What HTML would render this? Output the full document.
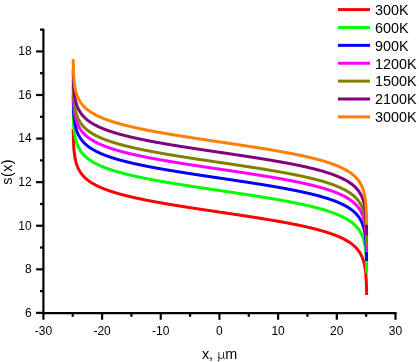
<!DOCTYPE html>
<html><head><meta charset="utf-8"><title>s(x)</title>
<style>html,body{margin:0;padding:0;background:#fff;}svg{display:block;will-change:transform;}text{font-family:"Liberation Sans",sans-serif;fill:#000;}</style></head><body>
<svg width="419" height="362" viewBox="0 0 419 362">
<rect width="419" height="362" fill="#fff"/>
<g fill="none" stroke-width="3.0" stroke-linejoin="round" stroke-linecap="butt">
<path stroke="#FF0000" d="M73.19 129.34 L73.33 136.89 L73.48 141.32 L73.63 144.46 L73.77 146.89 L73.92 148.89 L74.07 150.57 L74.22 152.03 L74.36 153.32 L74.51 154.47 L74.66 155.52 L74.80 156.47 L74.95 157.35 L75.10 158.16 L75.24 158.92 L75.39 159.63 L75.54 160.29 L75.68 160.92 L75.83 161.51 L75.98 162.08 L76.12 162.62 L76.27 163.13 L76.42 163.62 L76.57 164.09 L76.71 164.54 L76.86 164.97 L77.01 165.39 L77.15 165.79 L77.30 166.18 L77.45 166.55 L77.74 167.27 L78.03 167.94 L78.33 168.57 L78.62 169.17 L78.92 169.74 L79.21 170.28 L79.50 170.80 L79.80 171.30 L80.09 171.77 L80.38 172.23 L80.68 172.67 L80.97 173.09 L81.26 173.50 L81.56 173.89 L81.85 174.27 L82.15 174.64 L82.44 175.00 L82.73 175.34 L83.03 175.68 L83.32 176.01 L83.62 176.32 L83.91 176.63 L84.20 176.94 L84.50 177.23 L84.79 177.52 L85.08 177.80 L85.38 178.07 L85.82 178.47 L86.26 178.86 L86.70 179.23 L87.14 179.60 L87.58 179.95 L88.02 180.29 L88.46 180.62 L88.90 180.95 L89.34 181.26 L89.78 181.57 L90.22 181.87 L90.66 182.17 L91.11 182.45 L91.55 182.73 L91.99 183.01 L92.43 183.27 L92.87 183.54 L93.31 183.79 L93.75 184.04 L94.19 184.29 L94.63 184.53 L95.07 184.77 L95.51 185.00 L95.95 185.23 L96.39 185.46 L96.83 185.68 L97.27 185.90 L97.71 186.11 L98.16 186.32 L98.60 186.53 L99.04 186.73 L99.48 186.94 L99.92 187.13 L100.36 187.33 L100.80 187.52 L101.24 187.71 L101.68 187.90 L102.12 188.08 L102.56 188.26 L103.00 188.44 L103.44 188.62 L103.88 188.80 L104.32 188.97 L104.77 189.14 L105.21 189.31 L105.65 189.48 L106.09 189.64 L106.53 189.80 L106.97 189.96 L107.41 190.12 L107.85 190.28 L108.29 190.44 L108.73 190.59 L109.17 190.74 L109.61 190.89 L110.05 191.04 L110.49 191.19 L110.93 191.34 L111.37 191.48 L111.82 191.62 L112.26 191.77 L112.70 191.91 L113.14 192.05 L113.58 192.18 L114.02 192.32 L114.46 192.46 L114.90 192.59 L115.34 192.72 L115.78 192.86 L116.22 192.99 L116.66 193.12 L117.10 193.24 L117.54 193.37 L117.98 193.50 L118.42 193.62 L118.86 193.75 L119.31 193.87 L119.75 194.00 L120.19 194.12 L120.63 194.24 L121.07 194.36 L121.51 194.48 L121.95 194.60 L122.39 194.71 L122.83 194.83 L123.27 194.94 L123.71 195.06 L124.15 195.17 L124.59 195.29 L125.03 195.40 L125.47 195.51 L125.91 195.62 L126.36 195.73 L126.80 195.84 L127.24 195.95 L127.68 196.06 L128.12 196.17 L128.56 196.27 L129.00 196.38 L129.44 196.49 L129.88 196.59 L130.32 196.70 L130.76 196.80 L131.20 196.90 L131.64 197.01 L132.08 197.11 L132.52 197.21 L132.97 197.31 L133.41 197.41 L133.85 197.51 L134.29 197.61 L134.73 197.71 L135.17 197.81 L135.61 197.90 L136.05 198.00 L136.49 198.10 L136.93 198.19 L137.37 198.29 L137.81 198.39 L138.25 198.48 L138.69 198.57 L139.13 198.67 L139.57 198.76 L140.02 198.86 L140.46 198.95 L140.90 199.04 L141.34 199.13 L141.78 199.22 L142.22 199.31 L142.66 199.40 L143.10 199.49 L143.54 199.58 L143.98 199.67 L144.42 199.76 L144.86 199.85 L145.30 199.94 L145.74 200.03 L146.18 200.12 L146.62 200.20 L147.07 200.29 L147.51 200.38 L147.95 200.46 L148.39 200.55 L148.83 200.63 L149.27 200.72 L149.71 200.80 L150.15 200.89 L150.59 200.97 L151.03 201.06 L151.47 201.14 L151.91 201.22 L152.35 201.31 L152.79 201.39 L153.23 201.47 L153.67 201.55 L154.12 201.64 L154.56 201.72 L155.00 201.80 L155.44 201.88 L155.88 201.96 L156.32 202.04 L156.76 202.12 L157.20 202.20 L157.64 202.28 L158.08 202.36 L158.52 202.44 L158.96 202.52 L159.40 202.60 L159.84 202.68 L160.28 202.76 L160.72 202.83 L161.17 202.91 L161.61 202.99 L162.05 203.07 L162.49 203.14 L162.93 203.22 L163.37 203.30 L163.81 203.37 L164.25 203.45 L164.69 203.53 L165.13 203.60 L165.57 203.68 L166.01 203.75 L166.45 203.83 L166.89 203.91 L167.33 203.98 L167.77 204.06 L168.22 204.13 L168.66 204.20 L169.10 204.28 L169.54 204.35 L169.98 204.43 L170.42 204.50 L170.86 204.57 L171.30 204.65 L171.74 204.72 L172.18 204.79 L172.62 204.87 L173.06 204.94 L173.50 205.01 L173.94 205.09 L174.38 205.16 L174.82 205.23 L175.27 205.30 L175.71 205.37 L176.15 205.45 L176.59 205.52 L177.03 205.59 L177.47 205.66 L177.91 205.73 L178.35 205.80 L178.79 205.87 L179.23 205.95 L179.67 206.02 L180.11 206.09 L180.55 206.16 L180.99 206.23 L181.43 206.30 L181.87 206.37 L182.32 206.44 L182.76 206.51 L183.20 206.58 L183.64 206.65 L184.08 206.72 L184.52 206.79 L184.96 206.86 L185.40 206.92 L185.84 206.99 L186.28 207.06 L186.72 207.13 L187.16 207.20 L187.60 207.27 L188.04 207.34 L188.48 207.41 L188.92 207.48 L189.37 207.54 L189.81 207.61 L190.25 207.68 L190.69 207.75 L191.13 207.82 L191.57 207.88 L192.01 207.95 L192.45 208.02 L192.89 208.09 L193.33 208.16 L193.77 208.22 L194.21 208.29 L194.65 208.36 L195.09 208.42 L195.53 208.49 L195.97 208.56 L196.42 208.63 L196.86 208.69 L197.30 208.76 L197.74 208.83 L198.18 208.89 L198.62 208.96 L199.06 209.03 L199.50 209.09 L199.94 209.16 L200.38 209.23 L200.82 209.29 L201.26 209.36 L201.70 209.43 L202.14 209.49 L202.58 209.56 L203.02 209.63 L203.47 209.69 L203.91 209.76 L204.35 209.82 L204.79 209.89 L205.23 209.96 L205.67 210.02 L206.11 210.09 L206.55 210.15 L206.99 210.22 L207.43 210.29 L207.87 210.35 L208.31 210.42 L208.75 210.48 L209.19 210.55 L209.63 210.62 L210.07 210.68 L210.52 210.75 L210.96 210.81 L211.40 210.88 L211.84 210.94 L212.28 211.01 L212.72 211.07 L213.16 211.14 L213.60 211.21 L214.04 211.27 L214.48 211.34 L214.92 211.40 L215.36 211.47 L215.80 211.53 L216.24 211.60 L216.68 211.66 L217.12 211.73 L217.57 211.79 L218.01 211.86 L218.45 211.93 L218.89 211.99 L219.33 212.06 L219.77 212.12 L220.21 212.19 L220.65 212.25 L221.09 212.32 L221.53 212.38 L221.97 212.45 L222.41 212.51 L222.85 212.58 L223.29 212.64 L223.73 212.71 L224.17 212.78 L224.62 212.84 L225.06 212.91 L225.50 212.97 L225.94 213.04 L226.38 213.10 L226.82 213.17 L227.26 213.23 L227.70 213.30 L228.14 213.36 L228.58 213.43 L229.02 213.50 L229.46 213.56 L229.90 213.63 L230.34 213.69 L230.78 213.76 L231.22 213.82 L231.67 213.89 L232.11 213.96 L232.55 214.02 L232.99 214.09 L233.43 214.15 L233.87 214.22 L234.31 214.29 L234.75 214.35 L235.19 214.42 L235.63 214.48 L236.07 214.55 L236.51 214.62 L236.95 214.68 L237.39 214.75 L237.83 214.81 L238.27 214.88 L238.72 214.95 L239.16 215.01 L239.60 215.08 L240.04 215.15 L240.48 215.21 L240.92 215.28 L241.36 215.35 L241.80 215.41 L242.24 215.48 L242.68 215.55 L243.12 215.61 L243.56 215.68 L244.00 215.75 L244.44 215.82 L244.88 215.88 L245.32 215.95 L245.77 216.02 L246.21 216.09 L246.65 216.15 L247.09 216.22 L247.53 216.29 L247.97 216.36 L248.41 216.42 L248.85 216.49 L249.29 216.56 L249.73 216.63 L250.17 216.70 L250.61 216.77 L251.05 216.83 L251.49 216.90 L251.93 216.97 L252.37 217.04 L252.82 217.11 L253.26 217.18 L253.70 217.25 L254.14 217.32 L254.58 217.38 L255.02 217.45 L255.46 217.52 L255.90 217.59 L256.34 217.66 L256.78 217.73 L257.22 217.80 L257.66 217.87 L258.10 217.94 L258.54 218.01 L258.98 218.08 L259.42 218.15 L259.87 218.22 L260.31 218.29 L260.75 218.36 L261.19 218.44 L261.63 218.51 L262.07 218.58 L262.51 218.65 L262.95 218.72 L263.39 218.79 L263.83 218.86 L264.27 218.94 L264.71 219.01 L265.15 219.08 L265.59 219.15 L266.03 219.22 L266.47 219.30 L266.92 219.37 L267.36 219.44 L267.80 219.52 L268.24 219.59 L268.68 219.66 L269.12 219.74 L269.56 219.81 L270.00 219.88 L270.44 219.96 L270.88 220.03 L271.32 220.11 L271.76 220.18 L272.20 220.26 L272.64 220.33 L273.08 220.41 L273.52 220.48 L273.97 220.56 L274.41 220.63 L274.85 220.71 L275.29 220.78 L275.73 220.86 L276.17 220.94 L276.61 221.01 L277.05 221.09 L277.49 221.17 L277.93 221.24 L278.37 221.32 L278.81 221.40 L279.25 221.48 L279.69 221.56 L280.13 221.64 L280.57 221.71 L281.01 221.79 L281.46 221.87 L281.90 221.95 L282.34 222.03 L282.78 222.11 L283.22 222.19 L283.66 222.27 L284.10 222.35 L284.54 222.43 L284.98 222.51 L285.42 222.60 L285.86 222.68 L286.30 222.76 L286.74 222.84 L287.18 222.92 L287.62 223.01 L288.06 223.09 L288.51 223.17 L288.95 223.26 L289.39 223.34 L289.83 223.43 L290.27 223.51 L290.71 223.60 L291.15 223.68 L291.59 223.77 L292.03 223.85 L292.47 223.94 L292.91 224.03 L293.35 224.11 L293.79 224.20 L294.23 224.29 L294.67 224.38 L295.11 224.46 L295.56 224.55 L296.00 224.64 L296.44 224.73 L296.88 224.82 L297.32 224.91 L297.76 225.00 L298.20 225.09 L298.64 225.18 L299.08 225.28 L299.52 225.37 L299.96 225.46 L300.40 225.56 L300.84 225.65 L301.28 225.74 L301.72 225.84 L302.17 225.93 L302.61 226.03 L303.05 226.12 L303.49 226.22 L303.93 226.32 L304.37 226.41 L304.81 226.51 L305.25 226.61 L305.69 226.71 L306.13 226.81 L306.57 226.91 L307.01 227.01 L307.45 227.11 L307.89 227.21 L308.33 227.31 L308.77 227.42 L309.22 227.52 L309.66 227.63 L310.10 227.73 L310.54 227.84 L310.98 227.94 L311.42 228.05 L311.86 228.15 L312.30 228.26 L312.74 228.37 L313.18 228.48 L313.62 228.59 L314.06 228.70 L314.50 228.81 L314.94 228.92 L315.38 229.04 L315.82 229.15 L316.26 229.26 L316.71 229.38 L317.15 229.50 L317.59 229.61 L318.03 229.73 L318.47 229.85 L318.91 229.97 L319.35 230.09 L319.79 230.21 L320.23 230.33 L320.67 230.45 L321.11 230.58 L321.55 230.70 L321.99 230.83 L322.43 230.96 L322.87 231.08 L323.31 231.21 L323.76 231.34 L324.20 231.47 L324.64 231.61 L325.08 231.74 L325.52 231.88 L325.96 232.01 L326.40 232.15 L326.84 232.29 L327.28 232.43 L327.72 232.57 L328.16 232.71 L328.60 232.85 L329.04 233.00 L329.48 233.15 L329.92 233.29 L330.37 233.44 L330.81 233.59 L331.25 233.75 L331.69 233.90 L332.13 234.06 L332.57 234.22 L333.01 234.38 L333.45 234.54 L333.89 234.70 L334.33 234.87 L334.77 235.03 L335.21 235.20 L335.65 235.37 L336.09 235.55 L336.53 235.72 L336.97 235.90 L337.42 236.08 L337.86 236.26 L338.30 236.45 L338.74 236.64 L339.18 236.83 L339.62 237.02 L340.06 237.22 L340.50 237.42 L340.94 237.62 L341.38 237.82 L341.82 238.03 L342.26 238.24 L342.70 238.46 L343.14 238.68 L343.58 238.90 L344.02 239.13 L344.47 239.36 L344.91 239.59 L345.35 239.83 L345.79 240.08 L346.23 240.33 L346.67 240.58 L347.11 240.84 L347.55 241.10 L347.99 241.37 L348.43 241.65 L348.87 241.93 L349.31 242.22 L349.75 242.51 L350.19 242.82 L350.63 243.13 L351.07 243.45 L351.51 243.77 L351.96 244.11 L352.40 244.45 L352.84 244.81 L353.28 245.18 L353.72 245.56 L354.16 245.95 L354.60 246.35 L354.89 246.63 L355.19 246.91 L355.48 247.20 L355.77 247.50 L356.07 247.81 L356.36 248.12 L356.66 248.44 L356.95 248.77 L357.24 249.11 L357.54 249.47 L357.83 249.83 L358.12 250.20 L358.42 250.59 L358.71 250.99 L359.01 251.41 L359.30 251.84 L359.59 252.28 L359.89 252.75 L360.18 253.23 L360.47 253.74 L360.77 254.27 L361.06 254.83 L361.36 255.41 L361.65 256.03 L361.94 256.68 L362.24 257.37 L362.53 258.11 L362.68 258.50 L362.82 258.90 L362.97 259.32 L363.12 259.75 L363.26 260.20 L363.41 260.67 L363.56 261.16 L363.71 261.67 L363.85 262.21 L364.00 262.77 L364.15 263.37 L364.29 263.99 L364.44 264.66 L364.59 265.37 L364.73 266.13 L364.88 266.94 L365.03 267.82 L365.17 268.77 L365.32 269.81 L365.47 270.97 L365.61 272.26 L365.76 273.72 L365.91 275.40 L366.06 277.39 L366.20 279.83 L366.35 282.97 L366.50 287.39 L366.64 294.95"/>
<path stroke="#00FF00" d="M73.19 107.76 L73.33 115.32 L73.48 119.74 L73.63 122.88 L73.77 125.32 L73.92 127.31 L74.07 129.00 L74.22 130.46 L74.36 131.75 L74.51 132.90 L74.66 133.94 L74.80 134.90 L74.95 135.78 L75.10 136.59 L75.24 137.35 L75.39 138.05 L75.54 138.72 L75.68 139.35 L75.83 139.94 L75.98 140.51 L76.12 141.04 L76.27 141.56 L76.42 142.05 L76.57 142.52 L76.71 142.97 L76.86 143.40 L77.01 143.82 L77.15 144.22 L77.30 144.60 L77.45 144.98 L77.74 145.69 L78.03 146.37 L78.33 147.00 L78.62 147.60 L78.92 148.17 L79.21 148.71 L79.50 149.23 L79.80 149.73 L80.09 150.20 L80.38 150.66 L80.68 151.09 L80.97 151.52 L81.26 151.92 L81.56 152.32 L81.85 152.70 L82.15 153.07 L82.44 153.42 L82.73 153.77 L83.03 154.11 L83.32 154.43 L83.62 154.75 L83.91 155.06 L84.20 155.36 L84.50 155.66 L84.79 155.95 L85.08 156.23 L85.38 156.50 L85.82 156.90 L86.26 157.29 L86.70 157.66 L87.14 158.02 L87.58 158.38 L88.02 158.72 L88.46 159.05 L88.90 159.38 L89.34 159.69 L89.78 160.00 L90.22 160.30 L90.66 160.59 L91.11 160.88 L91.55 161.16 L91.99 161.43 L92.43 161.70 L92.87 161.96 L93.31 162.22 L93.75 162.47 L94.19 162.72 L94.63 162.96 L95.07 163.20 L95.51 163.43 L95.95 163.66 L96.39 163.89 L96.83 164.11 L97.27 164.33 L97.71 164.54 L98.16 164.75 L98.60 164.96 L99.04 165.16 L99.48 165.36 L99.92 165.56 L100.36 165.76 L100.80 165.95 L101.24 166.14 L101.68 166.33 L102.12 166.51 L102.56 166.69 L103.00 166.87 L103.44 167.05 L103.88 167.22 L104.32 167.40 L104.77 167.57 L105.21 167.74 L105.65 167.90 L106.09 168.07 L106.53 168.23 L106.97 168.39 L107.41 168.55 L107.85 168.71 L108.29 168.86 L108.73 169.02 L109.17 169.17 L109.61 169.32 L110.05 169.47 L110.49 169.62 L110.93 169.76 L111.37 169.91 L111.82 170.05 L112.26 170.19 L112.70 170.33 L113.14 170.47 L113.58 170.61 L114.02 170.75 L114.46 170.88 L114.90 171.02 L115.34 171.15 L115.78 171.28 L116.22 171.41 L116.66 171.54 L117.10 171.67 L117.54 171.80 L117.98 171.93 L118.42 172.05 L118.86 172.18 L119.31 172.30 L119.75 172.42 L120.19 172.55 L120.63 172.67 L121.07 172.79 L121.51 172.90 L121.95 173.02 L122.39 173.14 L122.83 173.26 L123.27 173.37 L123.71 173.49 L124.15 173.60 L124.59 173.71 L125.03 173.83 L125.47 173.94 L125.91 174.05 L126.36 174.16 L126.80 174.27 L127.24 174.38 L127.68 174.49 L128.12 174.60 L128.56 174.70 L129.00 174.81 L129.44 174.91 L129.88 175.02 L130.32 175.12 L130.76 175.23 L131.20 175.33 L131.64 175.43 L132.08 175.54 L132.52 175.64 L132.97 175.74 L133.41 175.84 L133.85 175.94 L134.29 176.04 L134.73 176.14 L135.17 176.23 L135.61 176.33 L136.05 176.43 L136.49 176.53 L136.93 176.62 L137.37 176.72 L137.81 176.81 L138.25 176.91 L138.69 177.00 L139.13 177.10 L139.57 177.19 L140.02 177.28 L140.46 177.38 L140.90 177.47 L141.34 177.56 L141.78 177.65 L142.22 177.74 L142.66 177.83 L143.10 177.92 L143.54 178.01 L143.98 178.10 L144.42 178.19 L144.86 178.28 L145.30 178.37 L145.74 178.46 L146.18 178.54 L146.62 178.63 L147.07 178.72 L147.51 178.80 L147.95 178.89 L148.39 178.98 L148.83 179.06 L149.27 179.15 L149.71 179.23 L150.15 179.32 L150.59 179.40 L151.03 179.48 L151.47 179.57 L151.91 179.65 L152.35 179.73 L152.79 179.82 L153.23 179.90 L153.67 179.98 L154.12 180.06 L154.56 180.15 L155.00 180.23 L155.44 180.31 L155.88 180.39 L156.32 180.47 L156.76 180.55 L157.20 180.63 L157.64 180.71 L158.08 180.79 L158.52 180.87 L158.96 180.95 L159.40 181.03 L159.84 181.11 L160.28 181.18 L160.72 181.26 L161.17 181.34 L161.61 181.42 L162.05 181.49 L162.49 181.57 L162.93 181.65 L163.37 181.73 L163.81 181.80 L164.25 181.88 L164.69 181.96 L165.13 182.03 L165.57 182.11 L166.01 182.18 L166.45 182.26 L166.89 182.33 L167.33 182.41 L167.77 182.48 L168.22 182.56 L168.66 182.63 L169.10 182.71 L169.54 182.78 L169.98 182.86 L170.42 182.93 L170.86 183.00 L171.30 183.08 L171.74 183.15 L172.18 183.22 L172.62 183.30 L173.06 183.37 L173.50 183.44 L173.94 183.51 L174.38 183.59 L174.82 183.66 L175.27 183.73 L175.71 183.80 L176.15 183.87 L176.59 183.95 L177.03 184.02 L177.47 184.09 L177.91 184.16 L178.35 184.23 L178.79 184.30 L179.23 184.37 L179.67 184.44 L180.11 184.51 L180.55 184.59 L180.99 184.66 L181.43 184.73 L181.87 184.80 L182.32 184.87 L182.76 184.94 L183.20 185.01 L183.64 185.08 L184.08 185.14 L184.52 185.21 L184.96 185.28 L185.40 185.35 L185.84 185.42 L186.28 185.49 L186.72 185.56 L187.16 185.63 L187.60 185.70 L188.04 185.77 L188.48 185.83 L188.92 185.90 L189.37 185.97 L189.81 186.04 L190.25 186.11 L190.69 186.18 L191.13 186.24 L191.57 186.31 L192.01 186.38 L192.45 186.45 L192.89 186.52 L193.33 186.58 L193.77 186.65 L194.21 186.72 L194.65 186.79 L195.09 186.85 L195.53 186.92 L195.97 186.99 L196.42 187.05 L196.86 187.12 L197.30 187.19 L197.74 187.26 L198.18 187.32 L198.62 187.39 L199.06 187.46 L199.50 187.52 L199.94 187.59 L200.38 187.66 L200.82 187.72 L201.26 187.79 L201.70 187.86 L202.14 187.92 L202.58 187.99 L203.02 188.05 L203.47 188.12 L203.91 188.19 L204.35 188.25 L204.79 188.32 L205.23 188.38 L205.67 188.45 L206.11 188.52 L206.55 188.58 L206.99 188.65 L207.43 188.71 L207.87 188.78 L208.31 188.85 L208.75 188.91 L209.19 188.98 L209.63 189.04 L210.07 189.11 L210.52 189.17 L210.96 189.24 L211.40 189.31 L211.84 189.37 L212.28 189.44 L212.72 189.50 L213.16 189.57 L213.60 189.63 L214.04 189.70 L214.48 189.76 L214.92 189.83 L215.36 189.90 L215.80 189.96 L216.24 190.03 L216.68 190.09 L217.12 190.16 L217.57 190.22 L218.01 190.29 L218.45 190.35 L218.89 190.42 L219.33 190.48 L219.77 190.55 L220.21 190.61 L220.65 190.68 L221.09 190.75 L221.53 190.81 L221.97 190.88 L222.41 190.94 L222.85 191.01 L223.29 191.07 L223.73 191.14 L224.17 191.20 L224.62 191.27 L225.06 191.33 L225.50 191.40 L225.94 191.46 L226.38 191.53 L226.82 191.60 L227.26 191.66 L227.70 191.73 L228.14 191.79 L228.58 191.86 L229.02 191.92 L229.46 191.99 L229.90 192.05 L230.34 192.12 L230.78 192.19 L231.22 192.25 L231.67 192.32 L232.11 192.38 L232.55 192.45 L232.99 192.52 L233.43 192.58 L233.87 192.65 L234.31 192.71 L234.75 192.78 L235.19 192.85 L235.63 192.91 L236.07 192.98 L236.51 193.04 L236.95 193.11 L237.39 193.18 L237.83 193.24 L238.27 193.31 L238.72 193.38 L239.16 193.44 L239.60 193.51 L240.04 193.58 L240.48 193.64 L240.92 193.71 L241.36 193.78 L241.80 193.84 L242.24 193.91 L242.68 193.98 L243.12 194.04 L243.56 194.11 L244.00 194.18 L244.44 194.24 L244.88 194.31 L245.32 194.38 L245.77 194.45 L246.21 194.51 L246.65 194.58 L247.09 194.65 L247.53 194.72 L247.97 194.78 L248.41 194.85 L248.85 194.92 L249.29 194.99 L249.73 195.06 L250.17 195.12 L250.61 195.19 L251.05 195.26 L251.49 195.33 L251.93 195.40 L252.37 195.47 L252.82 195.54 L253.26 195.60 L253.70 195.67 L254.14 195.74 L254.58 195.81 L255.02 195.88 L255.46 195.95 L255.90 196.02 L256.34 196.09 L256.78 196.16 L257.22 196.23 L257.66 196.30 L258.10 196.37 L258.54 196.44 L258.98 196.51 L259.42 196.58 L259.87 196.65 L260.31 196.72 L260.75 196.79 L261.19 196.86 L261.63 196.93 L262.07 197.01 L262.51 197.08 L262.95 197.15 L263.39 197.22 L263.83 197.29 L264.27 197.36 L264.71 197.44 L265.15 197.51 L265.59 197.58 L266.03 197.65 L266.47 197.72 L266.92 197.80 L267.36 197.87 L267.80 197.94 L268.24 198.02 L268.68 198.09 L269.12 198.16 L269.56 198.24 L270.00 198.31 L270.44 198.39 L270.88 198.46 L271.32 198.53 L271.76 198.61 L272.20 198.68 L272.64 198.76 L273.08 198.83 L273.52 198.91 L273.97 198.98 L274.41 199.06 L274.85 199.14 L275.29 199.21 L275.73 199.29 L276.17 199.36 L276.61 199.44 L277.05 199.52 L277.49 199.60 L277.93 199.67 L278.37 199.75 L278.81 199.83 L279.25 199.91 L279.69 199.98 L280.13 200.06 L280.57 200.14 L281.01 200.22 L281.46 200.30 L281.90 200.38 L282.34 200.46 L282.78 200.54 L283.22 200.62 L283.66 200.70 L284.10 200.78 L284.54 200.86 L284.98 200.94 L285.42 201.02 L285.86 201.11 L286.30 201.19 L286.74 201.27 L287.18 201.35 L287.62 201.44 L288.06 201.52 L288.51 201.60 L288.95 201.69 L289.39 201.77 L289.83 201.85 L290.27 201.94 L290.71 202.02 L291.15 202.11 L291.59 202.19 L292.03 202.28 L292.47 202.37 L292.91 202.45 L293.35 202.54 L293.79 202.63 L294.23 202.72 L294.67 202.80 L295.11 202.89 L295.56 202.98 L296.00 203.07 L296.44 203.16 L296.88 203.25 L297.32 203.34 L297.76 203.43 L298.20 203.52 L298.64 203.61 L299.08 203.70 L299.52 203.80 L299.96 203.89 L300.40 203.98 L300.84 204.08 L301.28 204.17 L301.72 204.27 L302.17 204.36 L302.61 204.46 L303.05 204.55 L303.49 204.65 L303.93 204.75 L304.37 204.84 L304.81 204.94 L305.25 205.04 L305.69 205.14 L306.13 205.24 L306.57 205.34 L307.01 205.44 L307.45 205.54 L307.89 205.64 L308.33 205.74 L308.77 205.85 L309.22 205.95 L309.66 206.05 L310.10 206.16 L310.54 206.26 L310.98 206.37 L311.42 206.48 L311.86 206.58 L312.30 206.69 L312.74 206.80 L313.18 206.91 L313.62 207.02 L314.06 207.13 L314.50 207.24 L314.94 207.35 L315.38 207.46 L315.82 207.58 L316.26 207.69 L316.71 207.81 L317.15 207.92 L317.59 208.04 L318.03 208.16 L318.47 208.28 L318.91 208.40 L319.35 208.52 L319.79 208.64 L320.23 208.76 L320.67 208.88 L321.11 209.01 L321.55 209.13 L321.99 209.26 L322.43 209.38 L322.87 209.51 L323.31 209.64 L323.76 209.77 L324.20 209.90 L324.64 210.04 L325.08 210.17 L325.52 210.30 L325.96 210.44 L326.40 210.58 L326.84 210.71 L327.28 210.85 L327.72 211.00 L328.16 211.14 L328.60 211.28 L329.04 211.43 L329.48 211.57 L329.92 211.72 L330.37 211.87 L330.81 212.02 L331.25 212.18 L331.69 212.33 L332.13 212.49 L332.57 212.64 L333.01 212.80 L333.45 212.97 L333.89 213.13 L334.33 213.29 L334.77 213.46 L335.21 213.63 L335.65 213.80 L336.09 213.98 L336.53 214.15 L336.97 214.33 L337.42 214.51 L337.86 214.69 L338.30 214.88 L338.74 215.07 L339.18 215.26 L339.62 215.45 L340.06 215.65 L340.50 215.84 L340.94 216.05 L341.38 216.25 L341.82 216.46 L342.26 216.67 L342.70 216.89 L343.14 217.11 L343.58 217.33 L344.02 217.56 L344.47 217.79 L344.91 218.02 L345.35 218.26 L345.79 218.50 L346.23 218.75 L346.67 219.01 L347.11 219.27 L347.55 219.53 L347.99 219.80 L348.43 220.08 L348.87 220.36 L349.31 220.65 L349.75 220.94 L350.19 221.24 L350.63 221.55 L351.07 221.87 L351.51 222.20 L351.96 222.54 L352.40 222.88 L352.84 223.24 L353.28 223.60 L353.72 223.98 L354.16 224.37 L354.60 224.78 L354.89 225.05 L355.19 225.34 L355.48 225.63 L355.77 225.93 L356.07 226.23 L356.36 226.55 L356.66 226.87 L356.95 227.20 L357.24 227.54 L357.54 227.89 L357.83 228.26 L358.12 228.63 L358.42 229.02 L358.71 229.42 L359.01 229.83 L359.30 230.26 L359.59 230.71 L359.89 231.18 L360.18 231.66 L360.47 232.17 L360.77 232.70 L361.06 233.25 L361.36 233.84 L361.65 234.45 L361.94 235.11 L362.24 235.80 L362.53 236.54 L362.68 236.92 L362.82 237.33 L362.97 237.74 L363.12 238.18 L363.26 238.63 L363.41 239.10 L363.56 239.59 L363.71 240.10 L363.85 240.63 L364.00 241.20 L364.15 241.79 L364.29 242.42 L364.44 243.09 L364.59 243.80 L364.73 244.55 L364.88 245.37 L365.03 246.24 L365.17 247.20 L365.32 248.24 L365.47 249.39 L365.61 250.68 L365.76 252.14 L365.91 253.83 L366.06 255.82 L366.20 258.26 L366.35 261.40 L366.50 265.82 L366.64 273.38"/>
<path stroke="#0000FF" d="M73.19 95.32 L73.33 102.88 L73.48 107.30 L73.63 110.44 L73.77 112.88 L73.92 114.87 L74.07 116.56 L74.22 118.02 L74.36 119.30 L74.51 120.46 L74.66 121.50 L74.80 122.46 L74.95 123.33 L75.10 124.15 L75.24 124.90 L75.39 125.61 L75.54 126.28 L75.68 126.91 L75.83 127.50 L75.98 128.07 L76.12 128.60 L76.27 129.11 L76.42 129.60 L76.57 130.07 L76.71 130.52 L76.86 130.96 L77.01 131.37 L77.15 131.77 L77.30 132.16 L77.45 132.54 L77.74 133.25 L78.03 133.92 L78.33 134.56 L78.62 135.16 L78.92 135.73 L79.21 136.27 L79.50 136.79 L79.80 137.28 L80.09 137.76 L80.38 138.21 L80.68 138.65 L80.97 139.08 L81.26 139.48 L81.56 139.88 L81.85 140.26 L82.15 140.63 L82.44 140.98 L82.73 141.33 L83.03 141.67 L83.32 141.99 L83.62 142.31 L83.91 142.62 L84.20 142.92 L84.50 143.22 L84.79 143.50 L85.08 143.78 L85.38 144.06 L85.82 144.46 L86.26 144.84 L86.70 145.22 L87.14 145.58 L87.58 145.93 L88.02 146.28 L88.46 146.61 L88.90 146.93 L89.34 147.25 L89.78 147.56 L90.22 147.86 L90.66 148.15 L91.11 148.44 L91.55 148.72 L91.99 148.99 L92.43 149.26 L92.87 149.52 L93.31 149.78 L93.75 150.03 L94.19 150.28 L94.63 150.52 L95.07 150.76 L95.51 150.99 L95.95 151.22 L96.39 151.45 L96.83 151.67 L97.27 151.88 L97.71 152.10 L98.16 152.31 L98.60 152.52 L99.04 152.72 L99.48 152.92 L99.92 153.12 L100.36 153.32 L100.80 153.51 L101.24 153.70 L101.68 153.88 L102.12 154.07 L102.56 154.25 L103.00 154.43 L103.44 154.61 L103.88 154.78 L104.32 154.96 L104.77 155.13 L105.21 155.29 L105.65 155.46 L106.09 155.63 L106.53 155.79 L106.97 155.95 L107.41 156.11 L107.85 156.27 L108.29 156.42 L108.73 156.58 L109.17 156.73 L109.61 156.88 L110.05 157.03 L110.49 157.18 L110.93 157.32 L111.37 157.47 L111.82 157.61 L112.26 157.75 L112.70 157.89 L113.14 158.03 L113.58 158.17 L114.02 158.31 L114.46 158.44 L114.90 158.58 L115.34 158.71 L115.78 158.84 L116.22 158.97 L116.66 159.10 L117.10 159.23 L117.54 159.36 L117.98 159.48 L118.42 159.61 L118.86 159.73 L119.31 159.86 L119.75 159.98 L120.19 160.10 L120.63 160.22 L121.07 160.34 L121.51 160.46 L121.95 160.58 L122.39 160.70 L122.83 160.81 L123.27 160.93 L123.71 161.05 L124.15 161.16 L124.59 161.27 L125.03 161.39 L125.47 161.50 L125.91 161.61 L126.36 161.72 L126.80 161.83 L127.24 161.94 L127.68 162.05 L128.12 162.15 L128.56 162.26 L129.00 162.37 L129.44 162.47 L129.88 162.58 L130.32 162.68 L130.76 162.79 L131.20 162.89 L131.64 162.99 L132.08 163.09 L132.52 163.19 L132.97 163.30 L133.41 163.40 L133.85 163.50 L134.29 163.60 L134.73 163.69 L135.17 163.79 L135.61 163.89 L136.05 163.99 L136.49 164.08 L136.93 164.18 L137.37 164.28 L137.81 164.37 L138.25 164.47 L138.69 164.56 L139.13 164.65 L139.57 164.75 L140.02 164.84 L140.46 164.93 L140.90 165.03 L141.34 165.12 L141.78 165.21 L142.22 165.30 L142.66 165.39 L143.10 165.48 L143.54 165.57 L143.98 165.66 L144.42 165.75 L144.86 165.84 L145.30 165.93 L145.74 166.01 L146.18 166.10 L146.62 166.19 L147.07 166.28 L147.51 166.36 L147.95 166.45 L148.39 166.53 L148.83 166.62 L149.27 166.70 L149.71 166.79 L150.15 166.87 L150.59 166.96 L151.03 167.04 L151.47 167.13 L151.91 167.21 L152.35 167.29 L152.79 167.38 L153.23 167.46 L153.67 167.54 L154.12 167.62 L154.56 167.70 L155.00 167.78 L155.44 167.87 L155.88 167.95 L156.32 168.03 L156.76 168.11 L157.20 168.19 L157.64 168.27 L158.08 168.35 L158.52 168.43 L158.96 168.51 L159.40 168.58 L159.84 168.66 L160.28 168.74 L160.72 168.82 L161.17 168.90 L161.61 168.98 L162.05 169.05 L162.49 169.13 L162.93 169.21 L163.37 169.28 L163.81 169.36 L164.25 169.44 L164.69 169.51 L165.13 169.59 L165.57 169.67 L166.01 169.74 L166.45 169.82 L166.89 169.89 L167.33 169.97 L167.77 170.04 L168.22 170.12 L168.66 170.19 L169.10 170.27 L169.54 170.34 L169.98 170.41 L170.42 170.49 L170.86 170.56 L171.30 170.63 L171.74 170.71 L172.18 170.78 L172.62 170.85 L173.06 170.93 L173.50 171.00 L173.94 171.07 L174.38 171.14 L174.82 171.22 L175.27 171.29 L175.71 171.36 L176.15 171.43 L176.59 171.50 L177.03 171.58 L177.47 171.65 L177.91 171.72 L178.35 171.79 L178.79 171.86 L179.23 171.93 L179.67 172.00 L180.11 172.07 L180.55 172.14 L180.99 172.21 L181.43 172.28 L181.87 172.35 L182.32 172.42 L182.76 172.49 L183.20 172.56 L183.64 172.63 L184.08 172.70 L184.52 172.77 L184.96 172.84 L185.40 172.91 L185.84 172.98 L186.28 173.05 L186.72 173.12 L187.16 173.19 L187.60 173.26 L188.04 173.32 L188.48 173.39 L188.92 173.46 L189.37 173.53 L189.81 173.60 L190.25 173.67 L190.69 173.73 L191.13 173.80 L191.57 173.87 L192.01 173.94 L192.45 174.01 L192.89 174.07 L193.33 174.14 L193.77 174.21 L194.21 174.28 L194.65 174.34 L195.09 174.41 L195.53 174.48 L195.97 174.55 L196.42 174.61 L196.86 174.68 L197.30 174.75 L197.74 174.81 L198.18 174.88 L198.62 174.95 L199.06 175.01 L199.50 175.08 L199.94 175.15 L200.38 175.21 L200.82 175.28 L201.26 175.35 L201.70 175.41 L202.14 175.48 L202.58 175.55 L203.02 175.61 L203.47 175.68 L203.91 175.74 L204.35 175.81 L204.79 175.88 L205.23 175.94 L205.67 176.01 L206.11 176.07 L206.55 176.14 L206.99 176.21 L207.43 176.27 L207.87 176.34 L208.31 176.40 L208.75 176.47 L209.19 176.54 L209.63 176.60 L210.07 176.67 L210.52 176.73 L210.96 176.80 L211.40 176.86 L211.84 176.93 L212.28 176.99 L212.72 177.06 L213.16 177.13 L213.60 177.19 L214.04 177.26 L214.48 177.32 L214.92 177.39 L215.36 177.45 L215.80 177.52 L216.24 177.58 L216.68 177.65 L217.12 177.71 L217.57 177.78 L218.01 177.85 L218.45 177.91 L218.89 177.98 L219.33 178.04 L219.77 178.11 L220.21 178.17 L220.65 178.24 L221.09 178.30 L221.53 178.37 L221.97 178.43 L222.41 178.50 L222.85 178.56 L223.29 178.63 L223.73 178.70 L224.17 178.76 L224.62 178.83 L225.06 178.89 L225.50 178.96 L225.94 179.02 L226.38 179.09 L226.82 179.15 L227.26 179.22 L227.70 179.28 L228.14 179.35 L228.58 179.42 L229.02 179.48 L229.46 179.55 L229.90 179.61 L230.34 179.68 L230.78 179.74 L231.22 179.81 L231.67 179.88 L232.11 179.94 L232.55 180.01 L232.99 180.07 L233.43 180.14 L233.87 180.21 L234.31 180.27 L234.75 180.34 L235.19 180.40 L235.63 180.47 L236.07 180.54 L236.51 180.60 L236.95 180.67 L237.39 180.73 L237.83 180.80 L238.27 180.87 L238.72 180.93 L239.16 181.00 L239.60 181.07 L240.04 181.13 L240.48 181.20 L240.92 181.27 L241.36 181.33 L241.80 181.40 L242.24 181.47 L242.68 181.53 L243.12 181.60 L243.56 181.67 L244.00 181.73 L244.44 181.80 L244.88 181.87 L245.32 181.94 L245.77 182.00 L246.21 182.07 L246.65 182.14 L247.09 182.21 L247.53 182.27 L247.97 182.34 L248.41 182.41 L248.85 182.48 L249.29 182.55 L249.73 182.61 L250.17 182.68 L250.61 182.75 L251.05 182.82 L251.49 182.89 L251.93 182.96 L252.37 183.03 L252.82 183.09 L253.26 183.16 L253.70 183.23 L254.14 183.30 L254.58 183.37 L255.02 183.44 L255.46 183.51 L255.90 183.58 L256.34 183.65 L256.78 183.72 L257.22 183.79 L257.66 183.86 L258.10 183.93 L258.54 184.00 L258.98 184.07 L259.42 184.14 L259.87 184.21 L260.31 184.28 L260.75 184.35 L261.19 184.42 L261.63 184.49 L262.07 184.56 L262.51 184.63 L262.95 184.71 L263.39 184.78 L263.83 184.85 L264.27 184.92 L264.71 184.99 L265.15 185.07 L265.59 185.14 L266.03 185.21 L266.47 185.28 L266.92 185.36 L267.36 185.43 L267.80 185.50 L268.24 185.57 L268.68 185.65 L269.12 185.72 L269.56 185.80 L270.00 185.87 L270.44 185.94 L270.88 186.02 L271.32 186.09 L271.76 186.17 L272.20 186.24 L272.64 186.32 L273.08 186.39 L273.52 186.47 L273.97 186.54 L274.41 186.62 L274.85 186.69 L275.29 186.77 L275.73 186.85 L276.17 186.92 L276.61 187.00 L277.05 187.08 L277.49 187.15 L277.93 187.23 L278.37 187.31 L278.81 187.39 L279.25 187.46 L279.69 187.54 L280.13 187.62 L280.57 187.70 L281.01 187.78 L281.46 187.86 L281.90 187.94 L282.34 188.02 L282.78 188.10 L283.22 188.18 L283.66 188.26 L284.10 188.34 L284.54 188.42 L284.98 188.50 L285.42 188.58 L285.86 188.66 L286.30 188.75 L286.74 188.83 L287.18 188.91 L287.62 188.99 L288.06 189.08 L288.51 189.16 L288.95 189.24 L289.39 189.33 L289.83 189.41 L290.27 189.50 L290.71 189.58 L291.15 189.67 L291.59 189.75 L292.03 189.84 L292.47 189.92 L292.91 190.01 L293.35 190.10 L293.79 190.19 L294.23 190.27 L294.67 190.36 L295.11 190.45 L295.56 190.54 L296.00 190.63 L296.44 190.72 L296.88 190.81 L297.32 190.90 L297.76 190.99 L298.20 191.08 L298.64 191.17 L299.08 191.26 L299.52 191.36 L299.96 191.45 L300.40 191.54 L300.84 191.63 L301.28 191.73 L301.72 191.82 L302.17 191.92 L302.61 192.01 L303.05 192.11 L303.49 192.21 L303.93 192.30 L304.37 192.40 L304.81 192.50 L305.25 192.60 L305.69 192.70 L306.13 192.80 L306.57 192.90 L307.01 193.00 L307.45 193.10 L307.89 193.20 L308.33 193.30 L308.77 193.40 L309.22 193.51 L309.66 193.61 L310.10 193.72 L310.54 193.82 L310.98 193.93 L311.42 194.03 L311.86 194.14 L312.30 194.25 L312.74 194.36 L313.18 194.47 L313.62 194.58 L314.06 194.69 L314.50 194.80 L314.94 194.91 L315.38 195.02 L315.82 195.14 L316.26 195.25 L316.71 195.37 L317.15 195.48 L317.59 195.60 L318.03 195.72 L318.47 195.83 L318.91 195.95 L319.35 196.07 L319.79 196.20 L320.23 196.32 L320.67 196.44 L321.11 196.56 L321.55 196.69 L321.99 196.82 L322.43 196.94 L322.87 197.07 L323.31 197.20 L323.76 197.33 L324.20 197.46 L324.64 197.59 L325.08 197.73 L325.52 197.86 L325.96 198.00 L326.40 198.13 L326.84 198.27 L327.28 198.41 L327.72 198.55 L328.16 198.70 L328.60 198.84 L329.04 198.99 L329.48 199.13 L329.92 199.28 L330.37 199.43 L330.81 199.58 L331.25 199.73 L331.69 199.89 L332.13 200.04 L332.57 200.20 L333.01 200.36 L333.45 200.52 L333.89 200.69 L334.33 200.85 L334.77 201.02 L335.21 201.19 L335.65 201.36 L336.09 201.53 L336.53 201.71 L336.97 201.89 L337.42 202.07 L337.86 202.25 L338.30 202.44 L338.74 202.62 L339.18 202.81 L339.62 203.01 L340.06 203.20 L340.50 203.40 L340.94 203.60 L341.38 203.81 L341.82 204.02 L342.26 204.23 L342.70 204.45 L343.14 204.66 L343.58 204.89 L344.02 205.11 L344.47 205.34 L344.91 205.58 L345.35 205.82 L345.79 206.06 L346.23 206.31 L346.67 206.56 L347.11 206.82 L347.55 207.09 L347.99 207.36 L348.43 207.63 L348.87 207.92 L349.31 208.20 L349.75 208.50 L350.19 208.80 L350.63 209.11 L351.07 209.43 L351.51 209.76 L351.96 210.09 L352.40 210.44 L352.84 210.80 L353.28 211.16 L353.72 211.54 L354.16 211.93 L354.60 212.34 L354.89 212.61 L355.19 212.90 L355.48 213.19 L355.77 213.49 L356.07 213.79 L356.36 214.10 L356.66 214.43 L356.95 214.76 L357.24 215.10 L357.54 215.45 L357.83 215.82 L358.12 216.19 L358.42 216.58 L358.71 216.98 L359.01 217.39 L359.30 217.82 L359.59 218.27 L359.89 218.73 L360.18 219.22 L360.47 219.73 L360.77 220.26 L361.06 220.81 L361.36 221.40 L361.65 222.01 L361.94 222.66 L362.24 223.36 L362.53 224.09 L362.68 224.48 L362.82 224.88 L362.97 225.30 L363.12 225.73 L363.26 226.18 L363.41 226.65 L363.56 227.14 L363.71 227.66 L363.85 228.19 L364.00 228.76 L364.15 229.35 L364.29 229.98 L364.44 230.65 L364.59 231.35 L364.73 232.11 L364.88 232.92 L365.03 233.80 L365.17 234.76 L365.32 235.80 L365.47 236.95 L365.61 238.24 L365.76 239.70 L365.91 241.39 L366.06 243.38 L366.20 245.82 L366.35 248.95 L366.50 253.38 L366.64 260.94"/>
<path stroke="#FF00FF" d="M73.19 86.39 L73.33 93.95 L73.48 98.37 L73.63 101.51 L73.77 103.95 L73.92 105.94 L74.07 107.62 L74.22 109.08 L74.36 110.37 L74.51 111.52 L74.66 112.57 L74.80 113.52 L74.95 114.40 L75.10 115.21 L75.24 115.97 L75.39 116.68 L75.54 117.34 L75.68 117.97 L75.83 118.57 L75.98 119.13 L76.12 119.67 L76.27 120.18 L76.42 120.67 L76.57 121.14 L76.71 121.59 L76.86 122.02 L77.01 122.44 L77.15 122.84 L77.30 123.23 L77.45 123.60 L77.74 124.32 L78.03 124.99 L78.33 125.62 L78.62 126.22 L78.92 126.79 L79.21 127.34 L79.50 127.85 L79.80 128.35 L80.09 128.82 L80.38 129.28 L80.68 129.72 L80.97 130.14 L81.26 130.55 L81.56 130.94 L81.85 131.32 L82.15 131.69 L82.44 132.05 L82.73 132.40 L83.03 132.73 L83.32 133.06 L83.62 133.38 L83.91 133.69 L84.20 133.99 L84.50 134.28 L84.79 134.57 L85.08 134.85 L85.38 135.12 L85.82 135.52 L86.26 135.91 L86.70 136.28 L87.14 136.65 L87.58 137.00 L88.02 137.34 L88.46 137.68 L88.90 138.00 L89.34 138.32 L89.78 138.62 L90.22 138.92 L90.66 139.22 L91.11 139.50 L91.55 139.78 L91.99 140.06 L92.43 140.33 L92.87 140.59 L93.31 140.84 L93.75 141.10 L94.19 141.34 L94.63 141.59 L95.07 141.82 L95.51 142.06 L95.95 142.29 L96.39 142.51 L96.83 142.73 L97.27 142.95 L97.71 143.16 L98.16 143.38 L98.60 143.58 L99.04 143.79 L99.48 143.99 L99.92 144.19 L100.36 144.38 L100.80 144.57 L101.24 144.76 L101.68 144.95 L102.12 145.13 L102.56 145.32 L103.00 145.50 L103.44 145.67 L103.88 145.85 L104.32 146.02 L104.77 146.19 L105.21 146.36 L105.65 146.53 L106.09 146.69 L106.53 146.85 L106.97 147.02 L107.41 147.17 L107.85 147.33 L108.29 147.49 L108.73 147.64 L109.17 147.79 L109.61 147.94 L110.05 148.09 L110.49 148.24 L110.93 148.39 L111.37 148.53 L111.82 148.68 L112.26 148.82 L112.70 148.96 L113.14 149.10 L113.58 149.24 L114.02 149.37 L114.46 149.51 L114.90 149.64 L115.34 149.78 L115.78 149.91 L116.22 150.04 L116.66 150.17 L117.10 150.30 L117.54 150.42 L117.98 150.55 L118.42 150.68 L118.86 150.80 L119.31 150.92 L119.75 151.05 L120.19 151.17 L120.63 151.29 L121.07 151.41 L121.51 151.53 L121.95 151.65 L122.39 151.76 L122.83 151.88 L123.27 152.00 L123.71 152.11 L124.15 152.23 L124.59 152.34 L125.03 152.45 L125.47 152.56 L125.91 152.67 L126.36 152.78 L126.80 152.89 L127.24 153.00 L127.68 153.11 L128.12 153.22 L128.56 153.33 L129.00 153.43 L129.44 153.54 L129.88 153.64 L130.32 153.75 L130.76 153.85 L131.20 153.95 L131.64 154.06 L132.08 154.16 L132.52 154.26 L132.97 154.36 L133.41 154.46 L133.85 154.56 L134.29 154.66 L134.73 154.76 L135.17 154.86 L135.61 154.96 L136.05 155.05 L136.49 155.15 L136.93 155.25 L137.37 155.34 L137.81 155.44 L138.25 155.53 L138.69 155.63 L139.13 155.72 L139.57 155.81 L140.02 155.91 L140.46 156.00 L140.90 156.09 L141.34 156.18 L141.78 156.27 L142.22 156.37 L142.66 156.46 L143.10 156.55 L143.54 156.64 L143.98 156.73 L144.42 156.81 L144.86 156.90 L145.30 156.99 L145.74 157.08 L146.18 157.17 L146.62 157.25 L147.07 157.34 L147.51 157.43 L147.95 157.51 L148.39 157.60 L148.83 157.69 L149.27 157.77 L149.71 157.86 L150.15 157.94 L150.59 158.02 L151.03 158.11 L151.47 158.19 L151.91 158.28 L152.35 158.36 L152.79 158.44 L153.23 158.52 L153.67 158.61 L154.12 158.69 L154.56 158.77 L155.00 158.85 L155.44 158.93 L155.88 159.01 L156.32 159.09 L156.76 159.17 L157.20 159.25 L157.64 159.33 L158.08 159.41 L158.52 159.49 L158.96 159.57 L159.40 159.65 L159.84 159.73 L160.28 159.81 L160.72 159.89 L161.17 159.96 L161.61 160.04 L162.05 160.12 L162.49 160.20 L162.93 160.27 L163.37 160.35 L163.81 160.43 L164.25 160.50 L164.69 160.58 L165.13 160.66 L165.57 160.73 L166.01 160.81 L166.45 160.88 L166.89 160.96 L167.33 161.03 L167.77 161.11 L168.22 161.18 L168.66 161.26 L169.10 161.33 L169.54 161.41 L169.98 161.48 L170.42 161.55 L170.86 161.63 L171.30 161.70 L171.74 161.77 L172.18 161.85 L172.62 161.92 L173.06 161.99 L173.50 162.07 L173.94 162.14 L174.38 162.21 L174.82 162.28 L175.27 162.35 L175.71 162.43 L176.15 162.50 L176.59 162.57 L177.03 162.64 L177.47 162.71 L177.91 162.78 L178.35 162.86 L178.79 162.93 L179.23 163.00 L179.67 163.07 L180.11 163.14 L180.55 163.21 L180.99 163.28 L181.43 163.35 L181.87 163.42 L182.32 163.49 L182.76 163.56 L183.20 163.63 L183.64 163.70 L184.08 163.77 L184.52 163.84 L184.96 163.91 L185.40 163.98 L185.84 164.05 L186.28 164.11 L186.72 164.18 L187.16 164.25 L187.60 164.32 L188.04 164.39 L188.48 164.46 L188.92 164.53 L189.37 164.60 L189.81 164.66 L190.25 164.73 L190.69 164.80 L191.13 164.87 L191.57 164.94 L192.01 165.00 L192.45 165.07 L192.89 165.14 L193.33 165.21 L193.77 165.27 L194.21 165.34 L194.65 165.41 L195.09 165.48 L195.53 165.54 L195.97 165.61 L196.42 165.68 L196.86 165.75 L197.30 165.81 L197.74 165.88 L198.18 165.95 L198.62 166.01 L199.06 166.08 L199.50 166.15 L199.94 166.21 L200.38 166.28 L200.82 166.35 L201.26 166.41 L201.70 166.48 L202.14 166.55 L202.58 166.61 L203.02 166.68 L203.47 166.74 L203.91 166.81 L204.35 166.88 L204.79 166.94 L205.23 167.01 L205.67 167.07 L206.11 167.14 L206.55 167.21 L206.99 167.27 L207.43 167.34 L207.87 167.40 L208.31 167.47 L208.75 167.54 L209.19 167.60 L209.63 167.67 L210.07 167.73 L210.52 167.80 L210.96 167.86 L211.40 167.93 L211.84 168.00 L212.28 168.06 L212.72 168.13 L213.16 168.19 L213.60 168.26 L214.04 168.32 L214.48 168.39 L214.92 168.45 L215.36 168.52 L215.80 168.58 L216.24 168.65 L216.68 168.72 L217.12 168.78 L217.57 168.85 L218.01 168.91 L218.45 168.98 L218.89 169.04 L219.33 169.11 L219.77 169.17 L220.21 169.24 L220.65 169.30 L221.09 169.37 L221.53 169.43 L221.97 169.50 L222.41 169.57 L222.85 169.63 L223.29 169.70 L223.73 169.76 L224.17 169.83 L224.62 169.89 L225.06 169.96 L225.50 170.02 L225.94 170.09 L226.38 170.15 L226.82 170.22 L227.26 170.29 L227.70 170.35 L228.14 170.42 L228.58 170.48 L229.02 170.55 L229.46 170.61 L229.90 170.68 L230.34 170.74 L230.78 170.81 L231.22 170.88 L231.67 170.94 L232.11 171.01 L232.55 171.07 L232.99 171.14 L233.43 171.21 L233.87 171.27 L234.31 171.34 L234.75 171.40 L235.19 171.47 L235.63 171.54 L236.07 171.60 L236.51 171.67 L236.95 171.73 L237.39 171.80 L237.83 171.87 L238.27 171.93 L238.72 172.00 L239.16 172.07 L239.60 172.13 L240.04 172.20 L240.48 172.27 L240.92 172.33 L241.36 172.40 L241.80 172.47 L242.24 172.53 L242.68 172.60 L243.12 172.67 L243.56 172.73 L244.00 172.80 L244.44 172.87 L244.88 172.94 L245.32 173.00 L245.77 173.07 L246.21 173.14 L246.65 173.21 L247.09 173.27 L247.53 173.34 L247.97 173.41 L248.41 173.48 L248.85 173.54 L249.29 173.61 L249.73 173.68 L250.17 173.75 L250.61 173.82 L251.05 173.89 L251.49 173.95 L251.93 174.02 L252.37 174.09 L252.82 174.16 L253.26 174.23 L253.70 174.30 L254.14 174.37 L254.58 174.44 L255.02 174.51 L255.46 174.57 L255.90 174.64 L256.34 174.71 L256.78 174.78 L257.22 174.85 L257.66 174.92 L258.10 174.99 L258.54 175.06 L258.98 175.13 L259.42 175.20 L259.87 175.27 L260.31 175.35 L260.75 175.42 L261.19 175.49 L261.63 175.56 L262.07 175.63 L262.51 175.70 L262.95 175.77 L263.39 175.84 L263.83 175.92 L264.27 175.99 L264.71 176.06 L265.15 176.13 L265.59 176.20 L266.03 176.28 L266.47 176.35 L266.92 176.42 L267.36 176.49 L267.80 176.57 L268.24 176.64 L268.68 176.71 L269.12 176.79 L269.56 176.86 L270.00 176.94 L270.44 177.01 L270.88 177.08 L271.32 177.16 L271.76 177.23 L272.20 177.31 L272.64 177.38 L273.08 177.46 L273.52 177.53 L273.97 177.61 L274.41 177.68 L274.85 177.76 L275.29 177.84 L275.73 177.91 L276.17 177.99 L276.61 178.07 L277.05 178.14 L277.49 178.22 L277.93 178.30 L278.37 178.37 L278.81 178.45 L279.25 178.53 L279.69 178.61 L280.13 178.69 L280.57 178.77 L281.01 178.84 L281.46 178.92 L281.90 179.00 L282.34 179.08 L282.78 179.16 L283.22 179.24 L283.66 179.32 L284.10 179.40 L284.54 179.48 L284.98 179.57 L285.42 179.65 L285.86 179.73 L286.30 179.81 L286.74 179.89 L287.18 179.98 L287.62 180.06 L288.06 180.14 L288.51 180.23 L288.95 180.31 L289.39 180.39 L289.83 180.48 L290.27 180.56 L290.71 180.65 L291.15 180.73 L291.59 180.82 L292.03 180.90 L292.47 180.99 L292.91 181.08 L293.35 181.16 L293.79 181.25 L294.23 181.34 L294.67 181.43 L295.11 181.52 L295.56 181.60 L296.00 181.69 L296.44 181.78 L296.88 181.87 L297.32 181.96 L297.76 182.05 L298.20 182.15 L298.64 182.24 L299.08 182.33 L299.52 182.42 L299.96 182.51 L300.40 182.61 L300.84 182.70 L301.28 182.79 L301.72 182.89 L302.17 182.98 L302.61 183.08 L303.05 183.18 L303.49 183.27 L303.93 183.37 L304.37 183.47 L304.81 183.56 L305.25 183.66 L305.69 183.76 L306.13 183.86 L306.57 183.96 L307.01 184.06 L307.45 184.16 L307.89 184.26 L308.33 184.37 L308.77 184.47 L309.22 184.57 L309.66 184.68 L310.10 184.78 L310.54 184.89 L310.98 184.99 L311.42 185.10 L311.86 185.21 L312.30 185.31 L312.74 185.42 L313.18 185.53 L313.62 185.64 L314.06 185.75 L314.50 185.86 L314.94 185.98 L315.38 186.09 L315.82 186.20 L316.26 186.32 L316.71 186.43 L317.15 186.55 L317.59 186.66 L318.03 186.78 L318.47 186.90 L318.91 187.02 L319.35 187.14 L319.79 187.26 L320.23 187.38 L320.67 187.51 L321.11 187.63 L321.55 187.76 L321.99 187.88 L322.43 188.01 L322.87 188.14 L323.31 188.27 L323.76 188.40 L324.20 188.53 L324.64 188.66 L325.08 188.79 L325.52 188.93 L325.96 189.06 L326.40 189.20 L326.84 189.34 L327.28 189.48 L327.72 189.62 L328.16 189.76 L328.60 189.91 L329.04 190.05 L329.48 190.20 L329.92 190.35 L330.37 190.50 L330.81 190.65 L331.25 190.80 L331.69 190.95 L332.13 191.11 L332.57 191.27 L333.01 191.43 L333.45 191.59 L333.89 191.75 L334.33 191.92 L334.77 192.09 L335.21 192.25 L335.65 192.43 L336.09 192.60 L336.53 192.78 L336.97 192.95 L337.42 193.13 L337.86 193.32 L338.30 193.50 L338.74 193.69 L339.18 193.88 L339.62 194.07 L340.06 194.27 L340.50 194.47 L340.94 194.67 L341.38 194.88 L341.82 195.08 L342.26 195.30 L342.70 195.51 L343.14 195.73 L343.58 195.95 L344.02 196.18 L344.47 196.41 L344.91 196.65 L345.35 196.88 L345.79 197.13 L346.23 197.38 L346.67 197.63 L347.11 197.89 L347.55 198.15 L347.99 198.42 L348.43 198.70 L348.87 198.98 L349.31 199.27 L349.75 199.57 L350.19 199.87 L350.63 200.18 L351.07 200.50 L351.51 200.82 L351.96 201.16 L352.40 201.51 L352.84 201.86 L353.28 202.23 L353.72 202.61 L354.16 203.00 L354.60 203.40 L354.89 203.68 L355.19 203.96 L355.48 204.25 L355.77 204.55 L356.07 204.86 L356.36 205.17 L356.66 205.49 L356.95 205.83 L357.24 206.17 L357.54 206.52 L357.83 206.88 L358.12 207.26 L358.42 207.64 L358.71 208.04 L359.01 208.46 L359.30 208.89 L359.59 209.34 L359.89 209.80 L360.18 210.29 L360.47 210.79 L360.77 211.32 L361.06 211.88 L361.36 212.46 L361.65 213.08 L361.94 213.73 L362.24 214.42 L362.53 215.16 L362.68 215.55 L362.82 215.95 L362.97 216.37 L363.12 216.80 L363.26 217.25 L363.41 217.72 L363.56 218.21 L363.71 218.72 L363.85 219.26 L364.00 219.82 L364.15 220.42 L364.29 221.05 L364.44 221.71 L364.59 222.42 L364.73 223.18 L364.88 223.99 L365.03 224.87 L365.17 225.82 L365.32 226.87 L365.47 228.02 L365.61 229.31 L365.76 230.77 L365.91 232.45 L366.06 234.44 L366.20 236.88 L366.35 240.02 L366.50 244.44 L366.64 252.00"/>
<path stroke="#808000" d="M73.19 79.68 L73.33 87.23 L73.48 91.66 L73.63 94.80 L73.77 97.23 L73.92 99.23 L74.07 100.91 L74.22 102.37 L74.36 103.66 L74.51 104.81 L74.66 105.86 L74.80 106.81 L74.95 107.69 L75.10 108.50 L75.24 109.26 L75.39 109.97 L75.54 110.63 L75.68 111.26 L75.83 111.86 L75.98 112.42 L76.12 112.96 L76.27 113.47 L76.42 113.96 L76.57 114.43 L76.71 114.88 L76.86 115.31 L77.01 115.73 L77.15 116.13 L77.30 116.52 L77.45 116.89 L77.74 117.61 L78.03 118.28 L78.33 118.91 L78.62 119.51 L78.92 120.08 L79.21 120.62 L79.50 121.14 L79.80 121.64 L80.09 122.11 L80.38 122.57 L80.68 123.01 L80.97 123.43 L81.26 123.84 L81.56 124.23 L81.85 124.61 L82.15 124.98 L82.44 125.34 L82.73 125.68 L83.03 126.02 L83.32 126.35 L83.62 126.67 L83.91 126.98 L84.20 127.28 L84.50 127.57 L84.79 127.86 L85.08 128.14 L85.38 128.41 L85.82 128.81 L86.26 129.20 L86.70 129.57 L87.14 129.94 L87.58 130.29 L88.02 130.63 L88.46 130.96 L88.90 131.29 L89.34 131.60 L89.78 131.91 L90.22 132.21 L90.66 132.51 L91.11 132.79 L91.55 133.07 L91.99 133.35 L92.43 133.61 L92.87 133.88 L93.31 134.13 L93.75 134.39 L94.19 134.63 L94.63 134.87 L95.07 135.11 L95.51 135.35 L95.95 135.57 L96.39 135.80 L96.83 136.02 L97.27 136.24 L97.71 136.45 L98.16 136.66 L98.60 136.87 L99.04 137.08 L99.48 137.28 L99.92 137.47 L100.36 137.67 L100.80 137.86 L101.24 138.05 L101.68 138.24 L102.12 138.42 L102.56 138.61 L103.00 138.78 L103.44 138.96 L103.88 139.14 L104.32 139.31 L104.77 139.48 L105.21 139.65 L105.65 139.82 L106.09 139.98 L106.53 140.14 L106.97 140.30 L107.41 140.46 L107.85 140.62 L108.29 140.78 L108.73 140.93 L109.17 141.08 L109.61 141.23 L110.05 141.38 L110.49 141.53 L110.93 141.68 L111.37 141.82 L111.82 141.96 L112.26 142.11 L112.70 142.25 L113.14 142.39 L113.58 142.52 L114.02 142.66 L114.46 142.80 L114.90 142.93 L115.34 143.06 L115.78 143.20 L116.22 143.33 L116.66 143.46 L117.10 143.59 L117.54 143.71 L117.98 143.84 L118.42 143.97 L118.86 144.09 L119.31 144.21 L119.75 144.34 L120.19 144.46 L120.63 144.58 L121.07 144.70 L121.51 144.82 L121.95 144.94 L122.39 145.05 L122.83 145.17 L123.27 145.29 L123.71 145.40 L124.15 145.51 L124.59 145.63 L125.03 145.74 L125.47 145.85 L125.91 145.96 L126.36 146.07 L126.80 146.18 L127.24 146.29 L127.68 146.40 L128.12 146.51 L128.56 146.61 L129.00 146.72 L129.44 146.83 L129.88 146.93 L130.32 147.04 L130.76 147.14 L131.20 147.24 L131.64 147.35 L132.08 147.45 L132.52 147.55 L132.97 147.65 L133.41 147.75 L133.85 147.85 L134.29 147.95 L134.73 148.05 L135.17 148.15 L135.61 148.24 L136.05 148.34 L136.49 148.44 L136.93 148.53 L137.37 148.63 L137.81 148.73 L138.25 148.82 L138.69 148.92 L139.13 149.01 L139.57 149.10 L140.02 149.20 L140.46 149.29 L140.90 149.38 L141.34 149.47 L141.78 149.56 L142.22 149.65 L142.66 149.75 L143.10 149.84 L143.54 149.93 L143.98 150.01 L144.42 150.10 L144.86 150.19 L145.30 150.28 L145.74 150.37 L146.18 150.46 L146.62 150.54 L147.07 150.63 L147.51 150.72 L147.95 150.80 L148.39 150.89 L148.83 150.97 L149.27 151.06 L149.71 151.14 L150.15 151.23 L150.59 151.31 L151.03 151.40 L151.47 151.48 L151.91 151.56 L152.35 151.65 L152.79 151.73 L153.23 151.81 L153.67 151.89 L154.12 151.98 L154.56 152.06 L155.00 152.14 L155.44 152.22 L155.88 152.30 L156.32 152.38 L156.76 152.46 L157.20 152.54 L157.64 152.62 L158.08 152.70 L158.52 152.78 L158.96 152.86 L159.40 152.94 L159.84 153.02 L160.28 153.10 L160.72 153.17 L161.17 153.25 L161.61 153.33 L162.05 153.41 L162.49 153.48 L162.93 153.56 L163.37 153.64 L163.81 153.72 L164.25 153.79 L164.69 153.87 L165.13 153.94 L165.57 154.02 L166.01 154.10 L166.45 154.17 L166.89 154.25 L167.33 154.32 L167.77 154.40 L168.22 154.47 L168.66 154.55 L169.10 154.62 L169.54 154.69 L169.98 154.77 L170.42 154.84 L170.86 154.92 L171.30 154.99 L171.74 155.06 L172.18 155.14 L172.62 155.21 L173.06 155.28 L173.50 155.35 L173.94 155.43 L174.38 155.50 L174.82 155.57 L175.27 155.64 L175.71 155.72 L176.15 155.79 L176.59 155.86 L177.03 155.93 L177.47 156.00 L177.91 156.07 L178.35 156.14 L178.79 156.22 L179.23 156.29 L179.67 156.36 L180.11 156.43 L180.55 156.50 L180.99 156.57 L181.43 156.64 L181.87 156.71 L182.32 156.78 L182.76 156.85 L183.20 156.92 L183.64 156.99 L184.08 157.06 L184.52 157.13 L184.96 157.20 L185.40 157.27 L185.84 157.33 L186.28 157.40 L186.72 157.47 L187.16 157.54 L187.60 157.61 L188.04 157.68 L188.48 157.75 L188.92 157.82 L189.37 157.88 L189.81 157.95 L190.25 158.02 L190.69 158.09 L191.13 158.16 L191.57 158.22 L192.01 158.29 L192.45 158.36 L192.89 158.43 L193.33 158.50 L193.77 158.56 L194.21 158.63 L194.65 158.70 L195.09 158.77 L195.53 158.83 L195.97 158.90 L196.42 158.97 L196.86 159.03 L197.30 159.10 L197.74 159.17 L198.18 159.23 L198.62 159.30 L199.06 159.37 L199.50 159.44 L199.94 159.50 L200.38 159.57 L200.82 159.63 L201.26 159.70 L201.70 159.77 L202.14 159.83 L202.58 159.90 L203.02 159.97 L203.47 160.03 L203.91 160.10 L204.35 160.17 L204.79 160.23 L205.23 160.30 L205.67 160.36 L206.11 160.43 L206.55 160.50 L206.99 160.56 L207.43 160.63 L207.87 160.69 L208.31 160.76 L208.75 160.82 L209.19 160.89 L209.63 160.96 L210.07 161.02 L210.52 161.09 L210.96 161.15 L211.40 161.22 L211.84 161.28 L212.28 161.35 L212.72 161.42 L213.16 161.48 L213.60 161.55 L214.04 161.61 L214.48 161.68 L214.92 161.74 L215.36 161.81 L215.80 161.87 L216.24 161.94 L216.68 162.00 L217.12 162.07 L217.57 162.13 L218.01 162.20 L218.45 162.27 L218.89 162.33 L219.33 162.40 L219.77 162.46 L220.21 162.53 L220.65 162.59 L221.09 162.66 L221.53 162.72 L221.97 162.79 L222.41 162.85 L222.85 162.92 L223.29 162.98 L223.73 163.05 L224.17 163.12 L224.62 163.18 L225.06 163.25 L225.50 163.31 L225.94 163.38 L226.38 163.44 L226.82 163.51 L227.26 163.57 L227.70 163.64 L228.14 163.71 L228.58 163.77 L229.02 163.84 L229.46 163.90 L229.90 163.97 L230.34 164.03 L230.78 164.10 L231.22 164.16 L231.67 164.23 L232.11 164.30 L232.55 164.36 L232.99 164.43 L233.43 164.49 L233.87 164.56 L234.31 164.63 L234.75 164.69 L235.19 164.76 L235.63 164.82 L236.07 164.89 L236.51 164.96 L236.95 165.02 L237.39 165.09 L237.83 165.16 L238.27 165.22 L238.72 165.29 L239.16 165.35 L239.60 165.42 L240.04 165.49 L240.48 165.55 L240.92 165.62 L241.36 165.69 L241.80 165.75 L242.24 165.82 L242.68 165.89 L243.12 165.96 L243.56 166.02 L244.00 166.09 L244.44 166.16 L244.88 166.22 L245.32 166.29 L245.77 166.36 L246.21 166.43 L246.65 166.49 L247.09 166.56 L247.53 166.63 L247.97 166.70 L248.41 166.77 L248.85 166.83 L249.29 166.90 L249.73 166.97 L250.17 167.04 L250.61 167.11 L251.05 167.17 L251.49 167.24 L251.93 167.31 L252.37 167.38 L252.82 167.45 L253.26 167.52 L253.70 167.59 L254.14 167.66 L254.58 167.72 L255.02 167.79 L255.46 167.86 L255.90 167.93 L256.34 168.00 L256.78 168.07 L257.22 168.14 L257.66 168.21 L258.10 168.28 L258.54 168.35 L258.98 168.42 L259.42 168.49 L259.87 168.56 L260.31 168.63 L260.75 168.70 L261.19 168.78 L261.63 168.85 L262.07 168.92 L262.51 168.99 L262.95 169.06 L263.39 169.13 L263.83 169.20 L264.27 169.28 L264.71 169.35 L265.15 169.42 L265.59 169.49 L266.03 169.56 L266.47 169.64 L266.92 169.71 L267.36 169.78 L267.80 169.86 L268.24 169.93 L268.68 170.00 L269.12 170.08 L269.56 170.15 L270.00 170.22 L270.44 170.30 L270.88 170.37 L271.32 170.45 L271.76 170.52 L272.20 170.60 L272.64 170.67 L273.08 170.75 L273.52 170.82 L273.97 170.90 L274.41 170.97 L274.85 171.05 L275.29 171.12 L275.73 171.20 L276.17 171.28 L276.61 171.35 L277.05 171.43 L277.49 171.51 L277.93 171.59 L278.37 171.66 L278.81 171.74 L279.25 171.82 L279.69 171.90 L280.13 171.98 L280.57 172.05 L281.01 172.13 L281.46 172.21 L281.90 172.29 L282.34 172.37 L282.78 172.45 L283.22 172.53 L283.66 172.61 L284.10 172.69 L284.54 172.77 L284.98 172.85 L285.42 172.94 L285.86 173.02 L286.30 173.10 L286.74 173.18 L287.18 173.26 L287.62 173.35 L288.06 173.43 L288.51 173.51 L288.95 173.60 L289.39 173.68 L289.83 173.77 L290.27 173.85 L290.71 173.94 L291.15 174.02 L291.59 174.11 L292.03 174.19 L292.47 174.28 L292.91 174.37 L293.35 174.45 L293.79 174.54 L294.23 174.63 L294.67 174.72 L295.11 174.80 L295.56 174.89 L296.00 174.98 L296.44 175.07 L296.88 175.16 L297.32 175.25 L297.76 175.34 L298.20 175.43 L298.64 175.53 L299.08 175.62 L299.52 175.71 L299.96 175.80 L300.40 175.90 L300.84 175.99 L301.28 176.08 L301.72 176.18 L302.17 176.27 L302.61 176.37 L303.05 176.46 L303.49 176.56 L303.93 176.66 L304.37 176.76 L304.81 176.85 L305.25 176.95 L305.69 177.05 L306.13 177.15 L306.57 177.25 L307.01 177.35 L307.45 177.45 L307.89 177.55 L308.33 177.66 L308.77 177.76 L309.22 177.86 L309.66 177.97 L310.10 178.07 L310.54 178.18 L310.98 178.28 L311.42 178.39 L311.86 178.50 L312.30 178.60 L312.74 178.71 L313.18 178.82 L313.62 178.93 L314.06 179.04 L314.50 179.15 L314.94 179.26 L315.38 179.38 L315.82 179.49 L316.26 179.61 L316.71 179.72 L317.15 179.84 L317.59 179.95 L318.03 180.07 L318.47 180.19 L318.91 180.31 L319.35 180.43 L319.79 180.55 L320.23 180.67 L320.67 180.80 L321.11 180.92 L321.55 181.04 L321.99 181.17 L322.43 181.30 L322.87 181.42 L323.31 181.55 L323.76 181.68 L324.20 181.82 L324.64 181.95 L325.08 182.08 L325.52 182.22 L325.96 182.35 L326.40 182.49 L326.84 182.63 L327.28 182.77 L327.72 182.91 L328.16 183.05 L328.60 183.19 L329.04 183.34 L329.48 183.49 L329.92 183.63 L330.37 183.78 L330.81 183.94 L331.25 184.09 L331.69 184.24 L332.13 184.40 L332.57 184.56 L333.01 184.72 L333.45 184.88 L333.89 185.04 L334.33 185.21 L334.77 185.37 L335.21 185.54 L335.65 185.71 L336.09 185.89 L336.53 186.06 L336.97 186.24 L337.42 186.42 L337.86 186.61 L338.30 186.79 L338.74 186.98 L339.18 187.17 L339.62 187.36 L340.06 187.56 L340.50 187.76 L340.94 187.96 L341.38 188.16 L341.82 188.37 L342.26 188.58 L342.70 188.80 L343.14 189.02 L343.58 189.24 L344.02 189.47 L344.47 189.70 L344.91 189.93 L345.35 190.17 L345.79 190.42 L346.23 190.67 L346.67 190.92 L347.11 191.18 L347.55 191.44 L347.99 191.71 L348.43 191.99 L348.87 192.27 L349.31 192.56 L349.75 192.85 L350.19 193.16 L350.63 193.47 L351.07 193.79 L351.51 194.11 L351.96 194.45 L352.40 194.79 L352.84 195.15 L353.28 195.52 L353.72 195.90 L354.16 196.29 L354.60 196.69 L354.89 196.97 L355.19 197.25 L355.48 197.54 L355.77 197.84 L356.07 198.15 L356.36 198.46 L356.66 198.78 L356.95 199.11 L357.24 199.46 L357.54 199.81 L357.83 200.17 L358.12 200.54 L358.42 200.93 L358.71 201.33 L359.01 201.75 L359.30 202.18 L359.59 202.62 L359.89 203.09 L360.18 203.57 L360.47 204.08 L360.77 204.61 L361.06 205.17 L361.36 205.75 L361.65 206.37 L361.94 207.02 L362.24 207.71 L362.53 208.45 L362.68 208.84 L362.82 209.24 L362.97 209.66 L363.12 210.09 L363.26 210.54 L363.41 211.01 L363.56 211.50 L363.71 212.01 L363.85 212.55 L364.00 213.11 L364.15 213.71 L364.29 214.33 L364.44 215.00 L364.59 215.71 L364.73 216.47 L364.88 217.28 L365.03 218.16 L365.17 219.11 L365.32 220.15 L365.47 221.31 L365.61 222.60 L365.76 224.06 L365.91 225.74 L366.06 227.73 L366.20 230.17 L366.35 233.31 L366.50 237.73 L366.64 245.29"/>
<path stroke="#800080" d="M73.19 69.54 L73.33 77.10 L73.48 81.53 L73.63 84.66 L73.77 87.10 L73.92 89.09 L74.07 90.78 L74.22 92.24 L74.36 93.53 L74.51 94.68 L74.66 95.72 L74.80 96.68 L74.95 97.56 L75.10 98.37 L75.24 99.13 L75.39 99.83 L75.54 100.50 L75.68 101.13 L75.83 101.72 L75.98 102.29 L76.12 102.82 L76.27 103.34 L76.42 103.83 L76.57 104.30 L76.71 104.75 L76.86 105.18 L77.01 105.60 L77.15 106.00 L77.30 106.39 L77.45 106.76 L77.74 107.47 L78.03 108.15 L78.33 108.78 L78.62 109.38 L78.92 109.95 L79.21 110.49 L79.50 111.01 L79.80 111.51 L80.09 111.98 L80.38 112.44 L80.68 112.88 L80.97 113.30 L81.26 113.71 L81.56 114.10 L81.85 114.48 L82.15 114.85 L82.44 115.20 L82.73 115.55 L83.03 115.89 L83.32 116.21 L83.62 116.53 L83.91 116.84 L84.20 117.14 L84.50 117.44 L84.79 117.73 L85.08 118.01 L85.38 118.28 L85.82 118.68 L86.26 119.07 L86.70 119.44 L87.14 119.80 L87.58 120.16 L88.02 120.50 L88.46 120.83 L88.90 121.16 L89.34 121.47 L89.78 121.78 L90.22 122.08 L90.66 122.37 L91.11 122.66 L91.55 122.94 L91.99 123.21 L92.43 123.48 L92.87 123.74 L93.31 124.00 L93.75 124.25 L94.19 124.50 L94.63 124.74 L95.07 124.98 L95.51 125.21 L95.95 125.44 L96.39 125.67 L96.83 125.89 L97.27 126.11 L97.71 126.32 L98.16 126.53 L98.60 126.74 L99.04 126.94 L99.48 127.14 L99.92 127.34 L100.36 127.54 L100.80 127.73 L101.24 127.92 L101.68 128.11 L102.12 128.29 L102.56 128.47 L103.00 128.65 L103.44 128.83 L103.88 129.00 L104.32 129.18 L104.77 129.35 L105.21 129.52 L105.65 129.68 L106.09 129.85 L106.53 130.01 L106.97 130.17 L107.41 130.33 L107.85 130.49 L108.29 130.64 L108.73 130.80 L109.17 130.95 L109.61 131.10 L110.05 131.25 L110.49 131.40 L110.93 131.54 L111.37 131.69 L111.82 131.83 L112.26 131.97 L112.70 132.11 L113.14 132.25 L113.58 132.39 L114.02 132.53 L114.46 132.66 L114.90 132.80 L115.34 132.93 L115.78 133.06 L116.22 133.19 L116.66 133.32 L117.10 133.45 L117.54 133.58 L117.98 133.71 L118.42 133.83 L118.86 133.96 L119.31 134.08 L119.75 134.20 L120.19 134.33 L120.63 134.45 L121.07 134.57 L121.51 134.69 L121.95 134.80 L122.39 134.92 L122.83 135.04 L123.27 135.15 L123.71 135.27 L124.15 135.38 L124.59 135.50 L125.03 135.61 L125.47 135.72 L125.91 135.83 L126.36 135.94 L126.80 136.05 L127.24 136.16 L127.68 136.27 L128.12 136.38 L128.56 136.48 L129.00 136.59 L129.44 136.69 L129.88 136.80 L130.32 136.90 L130.76 137.01 L131.20 137.11 L131.64 137.21 L132.08 137.32 L132.52 137.42 L132.97 137.52 L133.41 137.62 L133.85 137.72 L134.29 137.82 L134.73 137.92 L135.17 138.01 L135.61 138.11 L136.05 138.21 L136.49 138.31 L136.93 138.40 L137.37 138.50 L137.81 138.59 L138.25 138.69 L138.69 138.78 L139.13 138.88 L139.57 138.97 L140.02 139.06 L140.46 139.16 L140.90 139.25 L141.34 139.34 L141.78 139.43 L142.22 139.52 L142.66 139.61 L143.10 139.70 L143.54 139.79 L143.98 139.88 L144.42 139.97 L144.86 140.06 L145.30 140.15 L145.74 140.24 L146.18 140.32 L146.62 140.41 L147.07 140.50 L147.51 140.58 L147.95 140.67 L148.39 140.76 L148.83 140.84 L149.27 140.93 L149.71 141.01 L150.15 141.10 L150.59 141.18 L151.03 141.26 L151.47 141.35 L151.91 141.43 L152.35 141.51 L152.79 141.60 L153.23 141.68 L153.67 141.76 L154.12 141.84 L154.56 141.93 L155.00 142.01 L155.44 142.09 L155.88 142.17 L156.32 142.25 L156.76 142.33 L157.20 142.41 L157.64 142.49 L158.08 142.57 L158.52 142.65 L158.96 142.73 L159.40 142.81 L159.84 142.89 L160.28 142.96 L160.72 143.04 L161.17 143.12 L161.61 143.20 L162.05 143.28 L162.49 143.35 L162.93 143.43 L163.37 143.51 L163.81 143.58 L164.25 143.66 L164.69 143.74 L165.13 143.81 L165.57 143.89 L166.01 143.96 L166.45 144.04 L166.89 144.11 L167.33 144.19 L167.77 144.26 L168.22 144.34 L168.66 144.41 L169.10 144.49 L169.54 144.56 L169.98 144.64 L170.42 144.71 L170.86 144.78 L171.30 144.86 L171.74 144.93 L172.18 145.00 L172.62 145.08 L173.06 145.15 L173.50 145.22 L173.94 145.29 L174.38 145.37 L174.82 145.44 L175.27 145.51 L175.71 145.58 L176.15 145.65 L176.59 145.73 L177.03 145.80 L177.47 145.87 L177.91 145.94 L178.35 146.01 L178.79 146.08 L179.23 146.15 L179.67 146.22 L180.11 146.29 L180.55 146.37 L180.99 146.44 L181.43 146.51 L181.87 146.58 L182.32 146.65 L182.76 146.72 L183.20 146.79 L183.64 146.86 L184.08 146.93 L184.52 146.99 L184.96 147.06 L185.40 147.13 L185.84 147.20 L186.28 147.27 L186.72 147.34 L187.16 147.41 L187.60 147.48 L188.04 147.55 L188.48 147.62 L188.92 147.68 L189.37 147.75 L189.81 147.82 L190.25 147.89 L190.69 147.96 L191.13 148.02 L191.57 148.09 L192.01 148.16 L192.45 148.23 L192.89 148.30 L193.33 148.36 L193.77 148.43 L194.21 148.50 L194.65 148.57 L195.09 148.63 L195.53 148.70 L195.97 148.77 L196.42 148.83 L196.86 148.90 L197.30 148.97 L197.74 149.04 L198.18 149.10 L198.62 149.17 L199.06 149.24 L199.50 149.30 L199.94 149.37 L200.38 149.44 L200.82 149.50 L201.26 149.57 L201.70 149.64 L202.14 149.70 L202.58 149.77 L203.02 149.83 L203.47 149.90 L203.91 149.97 L204.35 150.03 L204.79 150.10 L205.23 150.16 L205.67 150.23 L206.11 150.30 L206.55 150.36 L206.99 150.43 L207.43 150.49 L207.87 150.56 L208.31 150.63 L208.75 150.69 L209.19 150.76 L209.63 150.82 L210.07 150.89 L210.52 150.95 L210.96 151.02 L211.40 151.09 L211.84 151.15 L212.28 151.22 L212.72 151.28 L213.16 151.35 L213.60 151.41 L214.04 151.48 L214.48 151.54 L214.92 151.61 L215.36 151.68 L215.80 151.74 L216.24 151.81 L216.68 151.87 L217.12 151.94 L217.57 152.00 L218.01 152.07 L218.45 152.13 L218.89 152.20 L219.33 152.26 L219.77 152.33 L220.21 152.39 L220.65 152.46 L221.09 152.53 L221.53 152.59 L221.97 152.66 L222.41 152.72 L222.85 152.79 L223.29 152.85 L223.73 152.92 L224.17 152.98 L224.62 153.05 L225.06 153.11 L225.50 153.18 L225.94 153.25 L226.38 153.31 L226.82 153.38 L227.26 153.44 L227.70 153.51 L228.14 153.57 L228.58 153.64 L229.02 153.70 L229.46 153.77 L229.90 153.84 L230.34 153.90 L230.78 153.97 L231.22 154.03 L231.67 154.10 L232.11 154.16 L232.55 154.23 L232.99 154.30 L233.43 154.36 L233.87 154.43 L234.31 154.49 L234.75 154.56 L235.19 154.63 L235.63 154.69 L236.07 154.76 L236.51 154.82 L236.95 154.89 L237.39 154.96 L237.83 155.02 L238.27 155.09 L238.72 155.16 L239.16 155.22 L239.60 155.29 L240.04 155.36 L240.48 155.42 L240.92 155.49 L241.36 155.56 L241.80 155.62 L242.24 155.69 L242.68 155.76 L243.12 155.82 L243.56 155.89 L244.00 155.96 L244.44 156.02 L244.88 156.09 L245.32 156.16 L245.77 156.23 L246.21 156.29 L246.65 156.36 L247.09 156.43 L247.53 156.50 L247.97 156.56 L248.41 156.63 L248.85 156.70 L249.29 156.77 L249.73 156.84 L250.17 156.91 L250.61 156.97 L251.05 157.04 L251.49 157.11 L251.93 157.18 L252.37 157.25 L252.82 157.32 L253.26 157.39 L253.70 157.45 L254.14 157.52 L254.58 157.59 L255.02 157.66 L255.46 157.73 L255.90 157.80 L256.34 157.87 L256.78 157.94 L257.22 158.01 L257.66 158.08 L258.10 158.15 L258.54 158.22 L258.98 158.29 L259.42 158.36 L259.87 158.43 L260.31 158.50 L260.75 158.57 L261.19 158.64 L261.63 158.71 L262.07 158.79 L262.51 158.86 L262.95 158.93 L263.39 159.00 L263.83 159.07 L264.27 159.14 L264.71 159.22 L265.15 159.29 L265.59 159.36 L266.03 159.43 L266.47 159.51 L266.92 159.58 L267.36 159.65 L267.80 159.72 L268.24 159.80 L268.68 159.87 L269.12 159.94 L269.56 160.02 L270.00 160.09 L270.44 160.17 L270.88 160.24 L271.32 160.31 L271.76 160.39 L272.20 160.46 L272.64 160.54 L273.08 160.61 L273.52 160.69 L273.97 160.76 L274.41 160.84 L274.85 160.92 L275.29 160.99 L275.73 161.07 L276.17 161.15 L276.61 161.22 L277.05 161.30 L277.49 161.38 L277.93 161.45 L278.37 161.53 L278.81 161.61 L279.25 161.69 L279.69 161.76 L280.13 161.84 L280.57 161.92 L281.01 162.00 L281.46 162.08 L281.90 162.16 L282.34 162.24 L282.78 162.32 L283.22 162.40 L283.66 162.48 L284.10 162.56 L284.54 162.64 L284.98 162.72 L285.42 162.80 L285.86 162.89 L286.30 162.97 L286.74 163.05 L287.18 163.13 L287.62 163.22 L288.06 163.30 L288.51 163.38 L288.95 163.47 L289.39 163.55 L289.83 163.63 L290.27 163.72 L290.71 163.80 L291.15 163.89 L291.59 163.97 L292.03 164.06 L292.47 164.15 L292.91 164.23 L293.35 164.32 L293.79 164.41 L294.23 164.50 L294.67 164.58 L295.11 164.67 L295.56 164.76 L296.00 164.85 L296.44 164.94 L296.88 165.03 L297.32 165.12 L297.76 165.21 L298.20 165.30 L298.64 165.39 L299.08 165.49 L299.52 165.58 L299.96 165.67 L300.40 165.76 L300.84 165.86 L301.28 165.95 L301.72 166.05 L302.17 166.14 L302.61 166.24 L303.05 166.33 L303.49 166.43 L303.93 166.53 L304.37 166.62 L304.81 166.72 L305.25 166.82 L305.69 166.92 L306.13 167.02 L306.57 167.12 L307.01 167.22 L307.45 167.32 L307.89 167.42 L308.33 167.52 L308.77 167.63 L309.22 167.73 L309.66 167.83 L310.10 167.94 L310.54 168.04 L310.98 168.15 L311.42 168.26 L311.86 168.36 L312.30 168.47 L312.74 168.58 L313.18 168.69 L313.62 168.80 L314.06 168.91 L314.50 169.02 L314.94 169.13 L315.38 169.25 L315.82 169.36 L316.26 169.47 L316.71 169.59 L317.15 169.70 L317.59 169.82 L318.03 169.94 L318.47 170.06 L318.91 170.18 L319.35 170.30 L319.79 170.42 L320.23 170.54 L320.67 170.66 L321.11 170.79 L321.55 170.91 L321.99 171.04 L322.43 171.16 L322.87 171.29 L323.31 171.42 L323.76 171.55 L324.20 171.68 L324.64 171.82 L325.08 171.95 L325.52 172.08 L325.96 172.22 L326.40 172.36 L326.84 172.50 L327.28 172.63 L327.72 172.78 L328.16 172.92 L328.60 173.06 L329.04 173.21 L329.48 173.35 L329.92 173.50 L330.37 173.65 L330.81 173.80 L331.25 173.96 L331.69 174.11 L332.13 174.27 L332.57 174.42 L333.01 174.58 L333.45 174.75 L333.89 174.91 L334.33 175.07 L334.77 175.24 L335.21 175.41 L335.65 175.58 L336.09 175.76 L336.53 175.93 L336.97 176.11 L337.42 176.29 L337.86 176.47 L338.30 176.66 L338.74 176.85 L339.18 177.04 L339.62 177.23 L340.06 177.43 L340.50 177.63 L340.94 177.83 L341.38 178.03 L341.82 178.24 L342.26 178.45 L342.70 178.67 L343.14 178.89 L343.58 179.11 L344.02 179.34 L344.47 179.57 L344.91 179.80 L345.35 180.04 L345.79 180.28 L346.23 180.53 L346.67 180.79 L347.11 181.05 L347.55 181.31 L347.99 181.58 L348.43 181.86 L348.87 182.14 L349.31 182.43 L349.75 182.72 L350.19 183.02 L350.63 183.34 L351.07 183.65 L351.51 183.98 L351.96 184.32 L352.40 184.66 L352.84 185.02 L353.28 185.39 L353.72 185.76 L354.16 186.15 L354.60 186.56 L354.89 186.84 L355.19 187.12 L355.48 187.41 L355.77 187.71 L356.07 188.01 L356.36 188.33 L356.66 188.65 L356.95 188.98 L357.24 189.32 L357.54 189.67 L357.83 190.04 L358.12 190.41 L358.42 190.80 L358.71 191.20 L359.01 191.61 L359.30 192.04 L359.59 192.49 L359.89 192.96 L360.18 193.44 L360.47 193.95 L360.77 194.48 L361.06 195.03 L361.36 195.62 L361.65 196.24 L361.94 196.89 L362.24 197.58 L362.53 198.32 L362.68 198.71 L362.82 199.11 L362.97 199.52 L363.12 199.96 L363.26 200.41 L363.41 200.88 L363.56 201.37 L363.71 201.88 L363.85 202.42 L364.00 202.98 L364.15 203.57 L364.29 204.20 L364.44 204.87 L364.59 205.58 L364.73 206.33 L364.88 207.15 L365.03 208.02 L365.17 208.98 L365.32 210.02 L365.47 211.18 L365.61 212.46 L365.76 213.92 L365.91 215.61 L366.06 217.60 L366.20 220.04 L366.35 223.18 L366.50 227.60 L366.64 235.16"/>
<path stroke="#FF8000" d="M73.19 59.15 L73.33 66.71 L73.48 71.13 L73.63 74.27 L73.77 76.71 L73.92 78.70 L74.07 80.38 L74.22 81.84 L74.36 83.13 L74.51 84.29 L74.66 85.33 L74.80 86.28 L74.95 87.16 L75.10 87.97 L75.24 88.73 L75.39 89.44 L75.54 90.11 L75.68 90.73 L75.83 91.33 L75.98 91.89 L76.12 92.43 L76.27 92.94 L76.42 93.43 L76.57 93.90 L76.71 94.35 L76.86 94.79 L77.01 95.20 L77.15 95.60 L77.30 95.99 L77.45 96.37 L77.74 97.08 L78.03 97.75 L78.33 98.39 L78.62 98.99 L78.92 99.56 L79.21 100.10 L79.50 100.62 L79.80 101.11 L80.09 101.59 L80.38 102.04 L80.68 102.48 L80.97 102.90 L81.26 103.31 L81.56 103.70 L81.85 104.09 L82.15 104.45 L82.44 104.81 L82.73 105.16 L83.03 105.49 L83.32 105.82 L83.62 106.14 L83.91 106.45 L84.20 106.75 L84.50 107.05 L84.79 107.33 L85.08 107.61 L85.38 107.89 L85.82 108.29 L86.26 108.67 L86.70 109.05 L87.14 109.41 L87.58 109.76 L88.02 110.11 L88.46 110.44 L88.90 110.76 L89.34 111.08 L89.78 111.39 L90.22 111.69 L90.66 111.98 L91.11 112.27 L91.55 112.55 L91.99 112.82 L92.43 113.09 L92.87 113.35 L93.31 113.61 L93.75 113.86 L94.19 114.11 L94.63 114.35 L95.07 114.59 L95.51 114.82 L95.95 115.05 L96.39 115.27 L96.83 115.50 L97.27 115.71 L97.71 115.93 L98.16 116.14 L98.60 116.35 L99.04 116.55 L99.48 116.75 L99.92 116.95 L100.36 117.14 L100.80 117.34 L101.24 117.53 L101.68 117.71 L102.12 117.90 L102.56 118.08 L103.00 118.26 L103.44 118.44 L103.88 118.61 L104.32 118.78 L104.77 118.95 L105.21 119.12 L105.65 119.29 L106.09 119.45 L106.53 119.62 L106.97 119.78 L107.41 119.94 L107.85 120.09 L108.29 120.25 L108.73 120.40 L109.17 120.56 L109.61 120.71 L110.05 120.86 L110.49 121.00 L110.93 121.15 L111.37 121.29 L111.82 121.44 L112.26 121.58 L112.70 121.72 L113.14 121.86 L113.58 122.00 L114.02 122.13 L114.46 122.27 L114.90 122.40 L115.34 122.54 L115.78 122.67 L116.22 122.80 L116.66 122.93 L117.10 123.06 L117.54 123.19 L117.98 123.31 L118.42 123.44 L118.86 123.56 L119.31 123.69 L119.75 123.81 L120.19 123.93 L120.63 124.05 L121.07 124.17 L121.51 124.29 L121.95 124.41 L122.39 124.53 L122.83 124.64 L123.27 124.76 L123.71 124.87 L124.15 124.99 L124.59 125.10 L125.03 125.21 L125.47 125.33 L125.91 125.44 L126.36 125.55 L126.80 125.66 L127.24 125.77 L127.68 125.87 L128.12 125.98 L128.56 126.09 L129.00 126.19 L129.44 126.30 L129.88 126.41 L130.32 126.51 L130.76 126.61 L131.20 126.72 L131.64 126.82 L132.08 126.92 L132.52 127.02 L132.97 127.12 L133.41 127.22 L133.85 127.32 L134.29 127.42 L134.73 127.52 L135.17 127.62 L135.61 127.72 L136.05 127.82 L136.49 127.91 L136.93 128.01 L137.37 128.10 L137.81 128.20 L138.25 128.29 L138.69 128.39 L139.13 128.48 L139.57 128.58 L140.02 128.67 L140.46 128.76 L140.90 128.85 L141.34 128.95 L141.78 129.04 L142.22 129.13 L142.66 129.22 L143.10 129.31 L143.54 129.40 L143.98 129.49 L144.42 129.58 L144.86 129.67 L145.30 129.75 L145.74 129.84 L146.18 129.93 L146.62 130.02 L147.07 130.10 L147.51 130.19 L147.95 130.28 L148.39 130.36 L148.83 130.45 L149.27 130.53 L149.71 130.62 L150.15 130.70 L150.59 130.79 L151.03 130.87 L151.47 130.95 L151.91 131.04 L152.35 131.12 L152.79 131.20 L153.23 131.29 L153.67 131.37 L154.12 131.45 L154.56 131.53 L155.00 131.61 L155.44 131.69 L155.88 131.78 L156.32 131.86 L156.76 131.94 L157.20 132.02 L157.64 132.10 L158.08 132.18 L158.52 132.26 L158.96 132.33 L159.40 132.41 L159.84 132.49 L160.28 132.57 L160.72 132.65 L161.17 132.73 L161.61 132.80 L162.05 132.88 L162.49 132.96 L162.93 133.04 L163.37 133.11 L163.81 133.19 L164.25 133.27 L164.69 133.34 L165.13 133.42 L165.57 133.49 L166.01 133.57 L166.45 133.64 L166.89 133.72 L167.33 133.80 L167.77 133.87 L168.22 133.94 L168.66 134.02 L169.10 134.09 L169.54 134.17 L169.98 134.24 L170.42 134.32 L170.86 134.39 L171.30 134.46 L171.74 134.54 L172.18 134.61 L172.62 134.68 L173.06 134.76 L173.50 134.83 L173.94 134.90 L174.38 134.97 L174.82 135.05 L175.27 135.12 L175.71 135.19 L176.15 135.26 L176.59 135.33 L177.03 135.40 L177.47 135.48 L177.91 135.55 L178.35 135.62 L178.79 135.69 L179.23 135.76 L179.67 135.83 L180.11 135.90 L180.55 135.97 L180.99 136.04 L181.43 136.11 L181.87 136.18 L182.32 136.25 L182.76 136.32 L183.20 136.39 L183.64 136.46 L184.08 136.53 L184.52 136.60 L184.96 136.67 L185.40 136.74 L185.84 136.81 L186.28 136.88 L186.72 136.95 L187.16 137.02 L187.60 137.08 L188.04 137.15 L188.48 137.22 L188.92 137.29 L189.37 137.36 L189.81 137.43 L190.25 137.49 L190.69 137.56 L191.13 137.63 L191.57 137.70 L192.01 137.77 L192.45 137.83 L192.89 137.90 L193.33 137.97 L193.77 138.04 L194.21 138.10 L194.65 138.17 L195.09 138.24 L195.53 138.31 L195.97 138.37 L196.42 138.44 L196.86 138.51 L197.30 138.57 L197.74 138.64 L198.18 138.71 L198.62 138.78 L199.06 138.84 L199.50 138.91 L199.94 138.98 L200.38 139.04 L200.82 139.11 L201.26 139.18 L201.70 139.24 L202.14 139.31 L202.58 139.37 L203.02 139.44 L203.47 139.51 L203.91 139.57 L204.35 139.64 L204.79 139.71 L205.23 139.77 L205.67 139.84 L206.11 139.90 L206.55 139.97 L206.99 140.03 L207.43 140.10 L207.87 140.17 L208.31 140.23 L208.75 140.30 L209.19 140.36 L209.63 140.43 L210.07 140.50 L210.52 140.56 L210.96 140.63 L211.40 140.69 L211.84 140.76 L212.28 140.82 L212.72 140.89 L213.16 140.95 L213.60 141.02 L214.04 141.09 L214.48 141.15 L214.92 141.22 L215.36 141.28 L215.80 141.35 L216.24 141.41 L216.68 141.48 L217.12 141.54 L217.57 141.61 L218.01 141.67 L218.45 141.74 L218.89 141.80 L219.33 141.87 L219.77 141.94 L220.21 142.00 L220.65 142.07 L221.09 142.13 L221.53 142.20 L221.97 142.26 L222.41 142.33 L222.85 142.39 L223.29 142.46 L223.73 142.52 L224.17 142.59 L224.62 142.65 L225.06 142.72 L225.50 142.79 L225.94 142.85 L226.38 142.92 L226.82 142.98 L227.26 143.05 L227.70 143.11 L228.14 143.18 L228.58 143.24 L229.02 143.31 L229.46 143.38 L229.90 143.44 L230.34 143.51 L230.78 143.57 L231.22 143.64 L231.67 143.70 L232.11 143.77 L232.55 143.84 L232.99 143.90 L233.43 143.97 L233.87 144.03 L234.31 144.10 L234.75 144.17 L235.19 144.23 L235.63 144.30 L236.07 144.36 L236.51 144.43 L236.95 144.50 L237.39 144.56 L237.83 144.63 L238.27 144.70 L238.72 144.76 L239.16 144.83 L239.60 144.89 L240.04 144.96 L240.48 145.03 L240.92 145.09 L241.36 145.16 L241.80 145.23 L242.24 145.30 L242.68 145.36 L243.12 145.43 L243.56 145.50 L244.00 145.56 L244.44 145.63 L244.88 145.70 L245.32 145.77 L245.77 145.83 L246.21 145.90 L246.65 145.97 L247.09 146.04 L247.53 146.10 L247.97 146.17 L248.41 146.24 L248.85 146.31 L249.29 146.37 L249.73 146.44 L250.17 146.51 L250.61 146.58 L251.05 146.65 L251.49 146.72 L251.93 146.79 L252.37 146.85 L252.82 146.92 L253.26 146.99 L253.70 147.06 L254.14 147.13 L254.58 147.20 L255.02 147.27 L255.46 147.34 L255.90 147.41 L256.34 147.48 L256.78 147.55 L257.22 147.62 L257.66 147.69 L258.10 147.76 L258.54 147.83 L258.98 147.90 L259.42 147.97 L259.87 148.04 L260.31 148.11 L260.75 148.18 L261.19 148.25 L261.63 148.32 L262.07 148.39 L262.51 148.46 L262.95 148.53 L263.39 148.61 L263.83 148.68 L264.27 148.75 L264.71 148.82 L265.15 148.89 L265.59 148.97 L266.03 149.04 L266.47 149.11 L266.92 149.18 L267.36 149.26 L267.80 149.33 L268.24 149.40 L268.68 149.48 L269.12 149.55 L269.56 149.62 L270.00 149.70 L270.44 149.77 L270.88 149.85 L271.32 149.92 L271.76 150.00 L272.20 150.07 L272.64 150.14 L273.08 150.22 L273.52 150.30 L273.97 150.37 L274.41 150.45 L274.85 150.52 L275.29 150.60 L275.73 150.67 L276.17 150.75 L276.61 150.83 L277.05 150.90 L277.49 150.98 L277.93 151.06 L278.37 151.14 L278.81 151.21 L279.25 151.29 L279.69 151.37 L280.13 151.45 L280.57 151.53 L281.01 151.61 L281.46 151.69 L281.90 151.77 L282.34 151.85 L282.78 151.93 L283.22 152.01 L283.66 152.09 L284.10 152.17 L284.54 152.25 L284.98 152.33 L285.42 152.41 L285.86 152.49 L286.30 152.57 L286.74 152.66 L287.18 152.74 L287.62 152.82 L288.06 152.90 L288.51 152.99 L288.95 153.07 L289.39 153.16 L289.83 153.24 L290.27 153.32 L290.71 153.41 L291.15 153.50 L291.59 153.58 L292.03 153.67 L292.47 153.75 L292.91 153.84 L293.35 153.93 L293.79 154.01 L294.23 154.10 L294.67 154.19 L295.11 154.28 L295.56 154.37 L296.00 154.46 L296.44 154.55 L296.88 154.64 L297.32 154.73 L297.76 154.82 L298.20 154.91 L298.64 155.00 L299.08 155.09 L299.52 155.18 L299.96 155.28 L300.40 155.37 L300.84 155.46 L301.28 155.56 L301.72 155.65 L302.17 155.75 L302.61 155.84 L303.05 155.94 L303.49 156.03 L303.93 156.13 L304.37 156.23 L304.81 156.33 L305.25 156.43 L305.69 156.52 L306.13 156.62 L306.57 156.72 L307.01 156.82 L307.45 156.93 L307.89 157.03 L308.33 157.13 L308.77 157.23 L309.22 157.34 L309.66 157.44 L310.10 157.54 L310.54 157.65 L310.98 157.76 L311.42 157.86 L311.86 157.97 L312.30 158.08 L312.74 158.19 L313.18 158.29 L313.62 158.40 L314.06 158.52 L314.50 158.63 L314.94 158.74 L315.38 158.85 L315.82 158.96 L316.26 159.08 L316.71 159.19 L317.15 159.31 L317.59 159.43 L318.03 159.54 L318.47 159.66 L318.91 159.78 L319.35 159.90 L319.79 160.02 L320.23 160.15 L320.67 160.27 L321.11 160.39 L321.55 160.52 L321.99 160.64 L322.43 160.77 L322.87 160.90 L323.31 161.03 L323.76 161.16 L324.20 161.29 L324.64 161.42 L325.08 161.56 L325.52 161.69 L325.96 161.83 L326.40 161.96 L326.84 162.10 L327.28 162.24 L327.72 162.38 L328.16 162.52 L328.60 162.67 L329.04 162.81 L329.48 162.96 L329.92 163.11 L330.37 163.26 L330.81 163.41 L331.25 163.56 L331.69 163.72 L332.13 163.87 L332.57 164.03 L333.01 164.19 L333.45 164.35 L333.89 164.52 L334.33 164.68 L334.77 164.85 L335.21 165.02 L335.65 165.19 L336.09 165.36 L336.53 165.54 L336.97 165.72 L337.42 165.90 L337.86 166.08 L338.30 166.26 L338.74 166.45 L339.18 166.64 L339.62 166.84 L340.06 167.03 L340.50 167.23 L340.94 167.43 L341.38 167.64 L341.82 167.85 L342.26 168.06 L342.70 168.27 L343.14 168.49 L343.58 168.72 L344.02 168.94 L344.47 169.17 L344.91 169.41 L345.35 169.65 L345.79 169.89 L346.23 170.14 L346.67 170.39 L347.11 170.65 L347.55 170.92 L347.99 171.19 L348.43 171.46 L348.87 171.74 L349.31 172.03 L349.75 172.33 L350.19 172.63 L350.63 172.94 L351.07 173.26 L351.51 173.59 L351.96 173.92 L352.40 174.27 L352.84 174.62 L353.28 174.99 L353.72 175.37 L354.16 175.76 L354.60 176.16 L354.89 176.44 L355.19 176.73 L355.48 177.02 L355.77 177.31 L356.07 177.62 L356.36 177.93 L356.66 178.26 L356.95 178.59 L357.24 178.93 L357.54 179.28 L357.83 179.64 L358.12 180.02 L358.42 180.41 L358.71 180.81 L359.01 181.22 L359.30 181.65 L359.59 182.10 L359.89 182.56 L360.18 183.05 L360.47 183.55 L360.77 184.08 L361.06 184.64 L361.36 185.22 L361.65 185.84 L361.94 186.49 L362.24 187.19 L362.53 187.92 L362.68 188.31 L362.82 188.71 L362.97 189.13 L363.12 189.56 L363.26 190.01 L363.41 190.48 L363.56 190.97 L363.71 191.48 L363.85 192.02 L364.00 192.59 L364.15 193.18 L364.29 193.81 L364.44 194.47 L364.59 195.18 L364.73 195.94 L364.88 196.75 L365.03 197.63 L365.17 198.58 L365.32 199.63 L365.47 200.78 L365.61 202.07 L365.76 203.53 L365.91 205.22 L366.06 207.21 L366.20 209.64 L366.35 212.78 L366.50 217.21 L366.64 224.76"/>
</g>
<g stroke="#000" fill="none">
<line x1="43.40" y1="28.63" x2="43.40" y2="314.15" stroke-width="2.2"/>
<line x1="42.30" y1="313.05" x2="396.58" y2="313.05" stroke-width="2.2"/>
<line x1="36.10" y1="312.90" x2="43.40" y2="312.90" stroke-width="2.2"/>
<line x1="40.00" y1="291.11" x2="43.40" y2="291.11" stroke-width="2.2"/>
<line x1="36.10" y1="269.32" x2="43.40" y2="269.32" stroke-width="2.2"/>
<line x1="40.00" y1="247.53" x2="43.40" y2="247.53" stroke-width="2.2"/>
<line x1="36.10" y1="225.74" x2="43.40" y2="225.74" stroke-width="2.2"/>
<line x1="40.00" y1="203.95" x2="43.40" y2="203.95" stroke-width="2.2"/>
<line x1="36.10" y1="182.16" x2="43.40" y2="182.16" stroke-width="2.2"/>
<line x1="40.00" y1="160.37" x2="43.40" y2="160.37" stroke-width="2.2"/>
<line x1="36.10" y1="138.58" x2="43.40" y2="138.58" stroke-width="2.2"/>
<line x1="40.00" y1="116.79" x2="43.40" y2="116.79" stroke-width="2.2"/>
<line x1="36.10" y1="95.00" x2="43.40" y2="95.00" stroke-width="2.2"/>
<line x1="40.00" y1="73.21" x2="43.40" y2="73.21" stroke-width="2.2"/>
<line x1="36.10" y1="51.42" x2="43.40" y2="51.42" stroke-width="2.2"/>
<line x1="40.00" y1="29.63" x2="43.40" y2="29.63" stroke-width="2.2"/>
<line x1="43.40" y1="313.05" x2="43.40" y2="319.75" stroke-width="2.2"/>
<line x1="72.74" y1="313.05" x2="72.74" y2="316.75" stroke-width="2.2"/>
<line x1="102.08" y1="313.05" x2="102.08" y2="319.75" stroke-width="2.2"/>
<line x1="131.42" y1="313.05" x2="131.42" y2="316.75" stroke-width="2.2"/>
<line x1="160.76" y1="313.05" x2="160.76" y2="319.75" stroke-width="2.2"/>
<line x1="190.10" y1="313.05" x2="190.10" y2="316.75" stroke-width="2.2"/>
<line x1="219.44" y1="313.05" x2="219.44" y2="319.75" stroke-width="2.2"/>
<line x1="248.78" y1="313.05" x2="248.78" y2="316.75" stroke-width="2.2"/>
<line x1="278.12" y1="313.05" x2="278.12" y2="319.75" stroke-width="2.2"/>
<line x1="307.46" y1="313.05" x2="307.46" y2="316.75" stroke-width="2.2"/>
<line x1="336.80" y1="313.05" x2="336.80" y2="319.75" stroke-width="2.2"/>
<line x1="366.14" y1="313.05" x2="366.14" y2="316.75" stroke-width="2.2"/>
<line x1="395.48" y1="313.05" x2="395.48" y2="319.75" stroke-width="2.2"/>
</g>
<g font-size="12">
<text x="31.7" y="316.70" text-anchor="end">6</text>
<text x="31.7" y="273.12" text-anchor="end">8</text>
<text x="31.7" y="229.54" text-anchor="end">10</text>
<text x="31.7" y="185.96" text-anchor="end">12</text>
<text x="31.7" y="142.38" text-anchor="end">14</text>
<text x="31.7" y="98.80" text-anchor="end">16</text>
<text x="31.7" y="55.22" text-anchor="end">18</text>
<text x="43.40" y="334.6" text-anchor="middle">-30</text>
<text x="102.08" y="334.6" text-anchor="middle">-20</text>
<text x="160.76" y="334.6" text-anchor="middle">-10</text>
<text x="219.44" y="334.6" text-anchor="middle">0</text>
<text x="278.12" y="334.6" text-anchor="middle">10</text>
<text x="336.80" y="334.6" text-anchor="middle">20</text>
<text x="395.48" y="334.6" text-anchor="middle">30</text>
</g>
<g font-size="14.4">
<text transform="translate(11.6 171.8) rotate(-90)" text-anchor="middle" letter-spacing="0.45">s(x)</text>
<text x="201.9" y="358.8">x,</text>
<text x="225.3" y="358.8">m</text>
<g fill="none" stroke="#000" stroke-width="0.95" stroke-opacity="0.8"><path d="M218.85 352.0 V360.6 M218.85 356.4 C218.85 358.1 219.7 358.7 220.9 358.7 C222.3 358.7 223.55 357.6 223.55 355.8 M223.55 352.0 V357.5 C223.55 358.5 224.1 358.9 225.1 358.5"/><path d="M217.9 361 L219 360.4" stroke-width="1.1"/></g>
<line x1="338" y1="9.60" x2="370" y2="9.60" stroke="#FF0000" stroke-width="3.0"/>
<text x="374.9" y="14.90">300K</text>
<line x1="338" y1="27.48" x2="370" y2="27.48" stroke="#00FF00" stroke-width="3.0"/>
<text x="374.9" y="32.78">600K</text>
<line x1="338" y1="45.36" x2="370" y2="45.36" stroke="#0000FF" stroke-width="3.0"/>
<text x="374.9" y="50.66">900K</text>
<line x1="338" y1="63.24" x2="370" y2="63.24" stroke="#FF00FF" stroke-width="3.0"/>
<text x="374.9" y="68.54">1200K</text>
<line x1="338" y1="81.12" x2="370" y2="81.12" stroke="#808000" stroke-width="3.0"/>
<text x="374.9" y="86.42">1500K</text>
<line x1="338" y1="99.00" x2="370" y2="99.00" stroke="#800080" stroke-width="3.0"/>
<text x="374.9" y="104.30">2100K</text>
<line x1="338" y1="116.88" x2="370" y2="116.88" stroke="#FF8000" stroke-width="3.0"/>
<text x="374.9" y="122.18">3000K</text>
</g>
</svg></body></html>
